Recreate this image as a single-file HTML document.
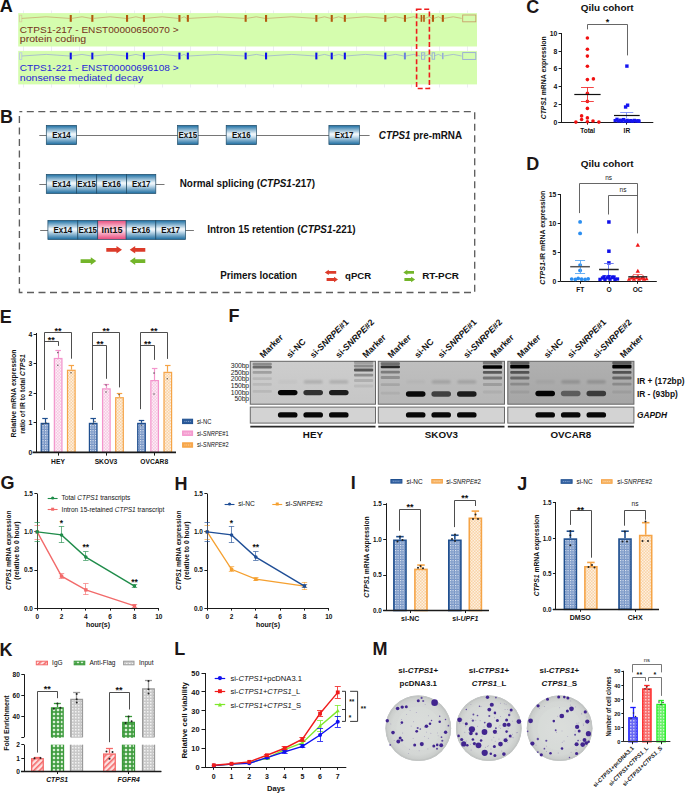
<!DOCTYPE html>
<html><head><meta charset="utf-8"><title>Figure</title>
<style>
html,body{margin:0;padding:0;background:#fff;}
body{width:685px;height:793px;overflow:hidden;}
svg{display:block;font-family:"Liberation Sans", sans-serif;}
</style></head><body>
<svg width="685" height="793" viewBox="0 0 685 793">
<rect width="685" height="793" fill="#fff"/>

<defs>
 <linearGradient id="gexon" x1="0" y1="0" x2="0" y2="1">
  <stop offset="0" stop-color="#1b6ea3"/>
  <stop offset="0.45" stop-color="#f4f9fc"/>
  <stop offset="0.55" stop-color="#dcebf5"/>
  <stop offset="1" stop-color="#1a6b9f"/>
 </linearGradient>
 <linearGradient id="gint" x1="0" y1="0" x2="0" y2="1">
  <stop offset="0" stop-color="#e64b7c"/>
  <stop offset="0.45" stop-color="#ffe0ea"/>
  <stop offset="0.55" stop-color="#ffd0de"/>
  <stop offset="1" stop-color="#e6467a"/>
 </linearGradient>
 <pattern id="pblue" width="2.5" height="2.5" patternUnits="userSpaceOnUse">
  <rect width="2.5" height="2.5" fill="#6f8fc2"/>
  <rect width="1.2" height="1.2" fill="#e6ecf5"/>
  <rect x="1.25" y="1.25" width="0.8" height="0.8" fill="#b8c8e2"/>
 </pattern>
 <pattern id="ppink" width="3" height="3" patternUnits="userSpaceOnUse">
  <rect width="3" height="3" fill="#f6c8e2"/>
  <rect width="1.5" height="1.5" fill="#fdeef6"/>
  <rect x="1.5" y="1.5" width="1.5" height="1.5" fill="#fdeef6"/>
 </pattern>
 <pattern id="porange" width="3" height="3" patternUnits="userSpaceOnUse">
  <rect width="3" height="3" fill="#f9d3a6"/>
  <rect width="1.5" height="1.5" fill="#fdf0e0"/>
  <rect x="1.5" y="1.5" width="1.5" height="1.5" fill="#fdf0e0"/>
 </pattern>
 <pattern id="pred" width="4" height="4" patternUnits="userSpaceOnUse" patternTransform="rotate(45)">
  <rect width="4" height="4" fill="#fde2e2"/>
  <rect width="1.6" height="4" fill="#f46a6a"/>
 </pattern>
 <pattern id="pgreen" width="4" height="4" patternUnits="userSpaceOnUse">
  <rect width="4" height="4" fill="#3c9a3c"/>
  <rect x="0.8" y="0.8" width="2.4" height="2.4" fill="#d9efd6"/>
 </pattern>
 <pattern id="pgrey" width="3" height="3" patternUnits="userSpaceOnUse">
  <rect width="3" height="3" fill="#c9c9c9"/>
  <rect width="1.5" height="1.5" fill="#f2f2f2"/>
 </pattern>
 <pattern id="pmblue" width="3" height="3" patternUnits="userSpaceOnUse">
  <rect width="3" height="3" fill="#6a6af2"/>
  <rect width="1.5" height="1.5" fill="#c4c4fb"/>
 </pattern>
 <pattern id="pmred" width="3" height="3" patternUnits="userSpaceOnUse">
  <rect width="3" height="3" fill="#f77070"/>
  <rect width="1.5" height="1.5" fill="#fdcaca"/>
 </pattern>
 <pattern id="pmgreen" width="3" height="3" patternUnits="userSpaceOnUse">
  <rect width="3" height="3" fill="#6cf06c"/>
  <rect width="1.5" height="1.5" fill="#ccfccc"/>
 </pattern>
 <radialGradient id="gplate" cx="0.5" cy="0.5" r="0.5">
  <stop offset="0" stop-color="#d9dcda"/>
  <stop offset="0.8" stop-color="#d4d7d5"/>
  <stop offset="0.94" stop-color="#cacdcb"/>
  <stop offset="1" stop-color="#b5b8b6"/>
 </radialGradient>
 <filter id="cblur" x="-50%" y="-50%" width="200%" height="200%"><feGaussianBlur stdDeviation="0.35"/></filter>
 <linearGradient id="ggel0" x1="0" y1="0" x2="0" y2="1">
  <stop offset="0" stop-color="#cdcdcd"/>
  <stop offset="1" stop-color="#c6c6c6"/>
 </linearGradient>
 <linearGradient id="ggel1" x1="0" y1="0" x2="0" y2="1">
  <stop offset="0" stop-color="#bfbfbf"/>
  <stop offset="1" stop-color="#b7b7b7"/>
 </linearGradient>
 <linearGradient id="ggel2" x1="0" y1="0" x2="0" y2="1">
  <stop offset="0" stop-color="#b0b0b0"/>
  <stop offset="1" stop-color="#a6a6a6"/>
 </linearGradient>
 <filter id="blur1" x="-20%" y="-50%" width="140%" height="200%"><feGaussianBlur stdDeviation="0.9"/></filter>
 <filter id="blur08" x="-20%" y="-60%" width="140%" height="220%"><feGaussianBlur stdDeviation="0.75"/></filter>
 <filter id="blur05" x="-20%" y="-50%" width="140%" height="200%"><feGaussianBlur stdDeviation="0.5"/></filter>
</defs>

<text x="-0.30" y="12.40" font-size="18" fill="#111" font-weight="bold" >A</text>
<line x1="23.50" y1="10.50" x2="23.50" y2="87.50" stroke="#e8e9f0" stroke-width="0.8" />
<line x1="51.50" y1="10.50" x2="51.50" y2="87.50" stroke="#e8e9f0" stroke-width="0.8" />
<line x1="79.50" y1="10.50" x2="79.50" y2="87.50" stroke="#e8e9f0" stroke-width="0.8" />
<line x1="106.50" y1="10.50" x2="106.50" y2="87.50" stroke="#e8e9f0" stroke-width="0.8" />
<line x1="134.50" y1="10.50" x2="134.50" y2="87.50" stroke="#e8e9f0" stroke-width="0.8" />
<line x1="162.50" y1="10.50" x2="162.50" y2="87.50" stroke="#e8e9f0" stroke-width="0.8" />
<line x1="190.50" y1="10.50" x2="190.50" y2="87.50" stroke="#e8e9f0" stroke-width="0.8" />
<line x1="217.50" y1="10.50" x2="217.50" y2="87.50" stroke="#e8e9f0" stroke-width="0.8" />
<line x1="245.50" y1="10.50" x2="245.50" y2="87.50" stroke="#e8e9f0" stroke-width="0.8" />
<line x1="273.50" y1="10.50" x2="273.50" y2="87.50" stroke="#e8e9f0" stroke-width="0.8" />
<line x1="301.50" y1="10.50" x2="301.50" y2="87.50" stroke="#e8e9f0" stroke-width="0.8" />
<line x1="328.50" y1="10.50" x2="328.50" y2="87.50" stroke="#e8e9f0" stroke-width="0.8" />
<line x1="356.50" y1="10.50" x2="356.50" y2="87.50" stroke="#e8e9f0" stroke-width="0.8" />
<line x1="384.50" y1="10.50" x2="384.50" y2="87.50" stroke="#e8e9f0" stroke-width="0.8" />
<line x1="411.50" y1="10.50" x2="411.50" y2="87.50" stroke="#e8e9f0" stroke-width="0.8" />
<line x1="439.50" y1="10.50" x2="439.50" y2="87.50" stroke="#e8e9f0" stroke-width="0.8" />
<line x1="467.50" y1="10.50" x2="467.50" y2="87.50" stroke="#e8e9f0" stroke-width="0.8" />
<rect x="18.20" y="13.10" width="458.80" height="33.40" fill="#d5fdae" stroke="none" stroke-width="1" />
<rect x="18.20" y="50.90" width="458.80" height="33.50" fill="#d5fdae" stroke="none" stroke-width="1" />
<rect x="19.60" y="15.20" width="2.20" height="6.60" fill="none" stroke="#d9cca0" stroke-width="0.8" />
<polyline points="21.80,18.40 46.25,16.80 69.70,18.40" fill="none" stroke="#c9a06a" stroke-width="0.7" />
<rect x="69.70" y="15.00" width="2.10" height="6.80" fill="#b35a0f" stroke="none" stroke-width="1" />
<polyline points="71.70,18.40 82.00,16.80 91.30,18.40" fill="none" stroke="#c9a06a" stroke-width="0.7" />
<rect x="91.30" y="15.00" width="2.10" height="6.80" fill="#b35a0f" stroke="none" stroke-width="1" />
<polyline points="93.30,18.40 110.15,16.80 126.00,18.40" fill="none" stroke="#c9a06a" stroke-width="0.7" />
<rect x="126.00" y="15.00" width="2.10" height="6.80" fill="#b35a0f" stroke="none" stroke-width="1" />
<polyline points="128.00,18.40 135.95,16.80 142.90,18.40" fill="none" stroke="#c9a06a" stroke-width="0.7" />
<rect x="142.90" y="15.00" width="2.10" height="6.80" fill="#b35a0f" stroke="none" stroke-width="1" />
<polyline points="144.90,18.40 162.15,16.80 178.40,18.40" fill="none" stroke="#c9a06a" stroke-width="0.7" />
<rect x="178.40" y="15.00" width="2.10" height="6.80" fill="#b35a0f" stroke="none" stroke-width="1" />
<polyline points="180.40,18.40 184.10,16.80 186.80,18.40" fill="none" stroke="#c9a06a" stroke-width="0.7" />
<rect x="186.80" y="15.00" width="2.10" height="6.80" fill="#b35a0f" stroke="none" stroke-width="1" />
<polyline points="188.80,18.40 217.20,16.80 244.60,18.40" fill="none" stroke="#c9a06a" stroke-width="0.7" />
<rect x="244.60" y="15.00" width="2.10" height="6.80" fill="#b35a0f" stroke="none" stroke-width="1" />
<polyline points="246.60,18.40 256.30,16.80 265.00,18.40" fill="none" stroke="#c9a06a" stroke-width="0.7" />
<rect x="265.00" y="15.00" width="2.10" height="6.80" fill="#b35a0f" stroke="none" stroke-width="1" />
<polyline points="267.00,18.40 291.65,16.80 315.30,18.40" fill="none" stroke="#c9a06a" stroke-width="0.7" />
<rect x="315.30" y="15.00" width="2.10" height="6.80" fill="#b35a0f" stroke="none" stroke-width="1" />
<polyline points="317.30,18.40 324.50,16.80 330.70,18.40" fill="none" stroke="#c9a06a" stroke-width="0.7" />
<rect x="330.70" y="15.00" width="2.10" height="6.80" fill="#b35a0f" stroke="none" stroke-width="1" />
<polyline points="332.70,18.40 338.75,16.80 343.80,18.40" fill="none" stroke="#c9a06a" stroke-width="0.7" />
<rect x="343.80" y="15.00" width="2.10" height="6.80" fill="#b35a0f" stroke="none" stroke-width="1" />
<polyline points="345.80,18.40 365.55,16.80 384.30,18.40" fill="none" stroke="#c9a06a" stroke-width="0.7" />
<rect x="384.30" y="15.00" width="2.10" height="6.80" fill="#b35a0f" stroke="none" stroke-width="1" />
<polyline points="386.30,18.40 395.60,16.80 403.90,18.40" fill="none" stroke="#c9a06a" stroke-width="0.7" />
<rect x="403.90" y="15.00" width="2.10" height="6.80" fill="#b35a0f" stroke="none" stroke-width="1" />
<polyline points="405.90,18.40 413.65,16.80 420.40,18.40" fill="none" stroke="#c9a06a" stroke-width="0.7" />
<rect x="420.60" y="15.00" width="1.60" height="6.80" fill="#b35a0f" stroke="none" stroke-width="1" />
<polyline points="422.40,18.40 423.20,16.80 423.00,18.40" fill="none" stroke="#c9a06a" stroke-width="0.7" />
<rect x="423.20" y="15.00" width="1.60" height="6.80" fill="#b35a0f" stroke="none" stroke-width="1" />
<polyline points="425.00,18.40 428.95,16.80 431.90,18.40" fill="none" stroke="#c9a06a" stroke-width="0.7" />
<rect x="431.90" y="15.00" width="2.10" height="6.80" fill="#b35a0f" stroke="none" stroke-width="1" />
<polyline points="433.90,18.40 438.35,16.80 441.80,18.40" fill="none" stroke="#c9a06a" stroke-width="0.7" />
<rect x="441.80" y="15.00" width="2.10" height="6.80" fill="#b35a0f" stroke="none" stroke-width="1" />
<polyline points="443.80,18.40 453.25,16.80 461.70,18.40" fill="none" stroke="#c9a06a" stroke-width="0.7" />
<rect x="462.70" y="15.00" width="13.10" height="6.80" fill="none" stroke="#c9a06a" stroke-width="0.9" />
<rect x="19.60" y="52.80" width="2.20" height="6.60" fill="none" stroke="#b8c4e8" stroke-width="0.8" />
<polyline points="21.80,56.00 46.25,54.40 69.70,56.00" fill="none" stroke="#98a8d8" stroke-width="0.7" />
<rect x="69.70" y="52.60" width="2.10" height="6.80" fill="#1010e8" stroke="none" stroke-width="1" />
<polyline points="71.70,56.00 82.00,54.40 91.30,56.00" fill="none" stroke="#98a8d8" stroke-width="0.7" />
<rect x="91.30" y="52.60" width="2.10" height="6.80" fill="#1010e8" stroke="none" stroke-width="1" />
<polyline points="93.30,56.00 110.15,54.40 126.00,56.00" fill="none" stroke="#98a8d8" stroke-width="0.7" />
<rect x="126.00" y="52.60" width="2.10" height="6.80" fill="#1010e8" stroke="none" stroke-width="1" />
<polyline points="128.00,56.00 135.95,54.40 142.90,56.00" fill="none" stroke="#98a8d8" stroke-width="0.7" />
<rect x="142.90" y="52.60" width="2.10" height="6.80" fill="#1010e8" stroke="none" stroke-width="1" />
<polyline points="144.90,56.00 162.15,54.40 178.40,56.00" fill="none" stroke="#98a8d8" stroke-width="0.7" />
<rect x="178.40" y="52.60" width="2.10" height="6.80" fill="#1010e8" stroke="none" stroke-width="1" />
<polyline points="180.40,56.00 184.10,54.40 186.80,56.00" fill="none" stroke="#98a8d8" stroke-width="0.7" />
<rect x="186.80" y="52.60" width="2.10" height="6.80" fill="#1010e8" stroke="none" stroke-width="1" />
<polyline points="188.80,56.00 217.20,54.40 244.60,56.00" fill="none" stroke="#98a8d8" stroke-width="0.7" />
<rect x="244.60" y="52.60" width="2.10" height="6.80" fill="#1010e8" stroke="none" stroke-width="1" />
<polyline points="246.60,56.00 256.30,54.40 265.00,56.00" fill="none" stroke="#98a8d8" stroke-width="0.7" />
<rect x="265.00" y="52.60" width="2.10" height="6.80" fill="#1010e8" stroke="none" stroke-width="1" />
<polyline points="267.00,56.00 291.65,54.40 315.30,56.00" fill="none" stroke="#98a8d8" stroke-width="0.7" />
<rect x="315.30" y="52.60" width="2.10" height="6.80" fill="#1010e8" stroke="none" stroke-width="1" />
<polyline points="317.30,56.00 324.50,54.40 330.70,56.00" fill="none" stroke="#98a8d8" stroke-width="0.7" />
<rect x="330.70" y="52.60" width="2.10" height="6.80" fill="#1010e8" stroke="none" stroke-width="1" />
<polyline points="332.70,56.00 338.75,54.40 343.80,56.00" fill="none" stroke="#98a8d8" stroke-width="0.7" />
<rect x="343.80" y="52.60" width="2.10" height="6.80" fill="#1010e8" stroke="none" stroke-width="1" />
<polyline points="345.80,56.00 365.55,54.40 384.30,56.00" fill="none" stroke="#98a8d8" stroke-width="0.7" />
<rect x="384.30" y="52.60" width="2.10" height="6.80" fill="#1010e8" stroke="none" stroke-width="1" />
<polyline points="386.30,56.00 395.60,54.40 403.90,56.00" fill="none" stroke="#98a8d8" stroke-width="0.7" />
<rect x="403.90" y="52.60" width="2.00" height="6.80" fill="#6d82db" stroke="none" stroke-width="1" />
<polyline points="405.90,56.00 413.65,54.40 420.40,56.00" fill="none" stroke="#98a8d8" stroke-width="0.7" />
<rect x="421.40" y="52.80" width="3.40" height="6.40" fill="none" stroke="#8fa3dc" stroke-width="0.8" />
<polyline points="422.40,56.00 423.20,54.40 423.00,56.00" fill="none" stroke="#98a8d8" stroke-width="0.7" />
<polyline points="425.00,56.00 428.95,54.40 431.90,56.00" fill="none" stroke="#98a8d8" stroke-width="0.7" />
<rect x="432.10" y="52.80" width="2.60" height="6.40" fill="none" stroke="#8fa3dc" stroke-width="0.8" />
<polyline points="433.90,56.00 438.35,54.40 441.80,56.00" fill="none" stroke="#98a8d8" stroke-width="0.7" />
<rect x="442.10" y="52.80" width="1.40" height="6.40" fill="#8fa3dc" stroke="none" stroke-width="1" />
<polyline points="443.80,56.00 453.25,54.40 461.70,56.00" fill="none" stroke="#98a8d8" stroke-width="0.7" />
<rect x="462.70" y="52.60" width="13.10" height="6.80" fill="none" stroke="#98a8d8" stroke-width="0.9" />
<text x="19.80" y="33.30" font-size="9.6" fill="#74301a" textLength="158.80" lengthAdjust="spacingAndGlyphs" >CTPS1-217 - ENST00000650070 &gt;</text>
<text x="19.80" y="42.40" font-size="9.6" fill="#74301a" textLength="66.40" lengthAdjust="spacingAndGlyphs" >protein coding</text>
<text x="19.80" y="70.70" font-size="9.6" fill="#2626d6" textLength="158.80" lengthAdjust="spacingAndGlyphs" >CTPS1-221 - ENST00000696108 &gt;</text>
<text x="19.80" y="80.60" font-size="9.6" fill="#2626d6" textLength="123.40" lengthAdjust="spacingAndGlyphs" >nonsense mediated decay</text>
<rect x="416.60" y="9.20" width="12.80" height="79.30" fill="none" stroke="#ee1c1c" stroke-width="1.6" stroke-dasharray="5,2.6"/>
<text x="0.10" y="122.90" font-size="18" fill="#1c1616" font-weight="bold" >B</text>
<rect x="19.40" y="111.60" width="455.30" height="180.90" fill="none" stroke="#5e5e5e" stroke-width="1.35" stroke-dasharray="7,4.5" stroke-dashoffset="4.1"/>
<line x1="39.30" y1="135.50" x2="369.60" y2="135.50" stroke="#666" stroke-width="0.9" />
<rect x="46.30" y="125.40" width="30.30" height="19.20" fill="url(#gexon)" stroke="#1f4a66" stroke-width="0.7" />
<text x="61.45" y="138.10" font-size="8.6" fill="#111" font-weight="bold" text-anchor="middle" textLength="18.60" lengthAdjust="spacingAndGlyphs" >Ex14</text>
<rect x="177.60" y="125.40" width="20.50" height="19.20" fill="url(#gexon)" stroke="#1f4a66" stroke-width="0.7" />
<text x="187.85" y="138.10" font-size="8.6" fill="#111" font-weight="bold" text-anchor="middle" textLength="18.60" lengthAdjust="spacingAndGlyphs" >Ex15</text>
<rect x="226.20" y="125.40" width="30.20" height="19.20" fill="url(#gexon)" stroke="#1f4a66" stroke-width="0.7" />
<text x="241.30" y="138.10" font-size="8.6" fill="#111" font-weight="bold" text-anchor="middle" textLength="18.60" lengthAdjust="spacingAndGlyphs" >Ex16</text>
<rect x="328.90" y="125.40" width="30.50" height="19.20" fill="url(#gexon)" stroke="#1f4a66" stroke-width="0.7" />
<text x="344.15" y="138.10" font-size="8.6" fill="#111" font-weight="bold" text-anchor="middle" textLength="18.60" lengthAdjust="spacingAndGlyphs" >Ex17</text>
<text x="378.80" y="138.60" font-size="10" fill="#111" font-weight="bold" textLength="83.30" lengthAdjust="spacingAndGlyphs" ><tspan font-style="italic">CTPS1</tspan> pre-mRNA</text>
<line x1="39.30" y1="184.50" x2="164.50" y2="184.50" stroke="#666" stroke-width="0.9" />
<rect x="46.30" y="174.40" width="30.30" height="19.10" fill="url(#gexon)" stroke="#1f4a66" stroke-width="0.7" />
<text x="61.45" y="187.05" font-size="8.6" fill="#111" font-weight="bold" text-anchor="middle" textLength="18.60" lengthAdjust="spacingAndGlyphs" >Ex14</text>
<rect x="76.60" y="174.40" width="20.10" height="19.10" fill="url(#gexon)" stroke="#1f4a66" stroke-width="0.7" />
<text x="86.65" y="187.05" font-size="8.6" fill="#111" font-weight="bold" text-anchor="middle" textLength="18.60" lengthAdjust="spacingAndGlyphs" >Ex15</text>
<rect x="96.70" y="174.40" width="29.90" height="19.10" fill="url(#gexon)" stroke="#1f4a66" stroke-width="0.7" />
<text x="111.65" y="187.05" font-size="8.6" fill="#111" font-weight="bold" text-anchor="middle" textLength="18.60" lengthAdjust="spacingAndGlyphs" >Ex16</text>
<rect x="126.60" y="174.40" width="29.20" height="19.10" fill="url(#gexon)" stroke="#1f4a66" stroke-width="0.7" />
<text x="141.20" y="187.05" font-size="8.6" fill="#111" font-weight="bold" text-anchor="middle" textLength="18.60" lengthAdjust="spacingAndGlyphs" >Ex17</text>
<text x="179.70" y="187.30" font-size="10" fill="#111" font-weight="bold" textLength="135.30" lengthAdjust="spacingAndGlyphs" >Normal splicing (<tspan font-style="italic">CTPS1</tspan>-217)</text>
<line x1="40.20" y1="230.50" x2="193.90" y2="230.50" stroke="#666" stroke-width="0.9" />
<rect x="47.90" y="220.40" width="29.90" height="19.10" fill="url(#gexon)" stroke="#1f4a66" stroke-width="0.7" />
<text x="62.85" y="233.05" font-size="8.6" fill="#111" font-weight="bold" text-anchor="middle" textLength="18.60" lengthAdjust="spacingAndGlyphs" >Ex14</text>
<rect x="77.80" y="220.40" width="19.90" height="19.10" fill="url(#gexon)" stroke="#1f4a66" stroke-width="0.7" />
<text x="87.75" y="233.05" font-size="8.6" fill="#111" font-weight="bold" text-anchor="middle" textLength="18.60" lengthAdjust="spacingAndGlyphs" >Ex15</text>
<rect x="97.70" y="220.40" width="28.50" height="19.10" fill="url(#gint)" stroke="#1f4a66" stroke-width="0.7" />
<text x="111.95" y="233.05" font-size="8.6" fill="#111" font-weight="bold" text-anchor="middle" textLength="21.00" lengthAdjust="spacingAndGlyphs" >Int15</text>
<rect x="126.20" y="220.40" width="29.60" height="19.10" fill="url(#gexon)" stroke="#1f4a66" stroke-width="0.7" />
<text x="141.00" y="233.05" font-size="8.6" fill="#111" font-weight="bold" text-anchor="middle" textLength="18.60" lengthAdjust="spacingAndGlyphs" >Ex16</text>
<rect x="155.80" y="220.40" width="29.70" height="19.10" fill="url(#gexon)" stroke="#1f4a66" stroke-width="0.7" />
<text x="170.65" y="233.05" font-size="8.6" fill="#111" font-weight="bold" text-anchor="middle" textLength="18.60" lengthAdjust="spacingAndGlyphs" >Ex17</text>
<text x="207.30" y="233.40" font-size="10" fill="#111" font-weight="bold" textLength="148.40" lengthAdjust="spacingAndGlyphs" >Intron 15 retention (<tspan font-style="italic">CTPS1</tspan>-221)</text>
<polygon points="106.30,247.90 116.50,247.90 116.50,246.00 122.00,249.80 116.50,253.60 116.50,251.70 106.30,251.70" fill="#dc3b2a" stroke="none" stroke-width="1" />
<polygon points="145.30,247.90 135.20,247.90 135.20,246.00 129.70,249.80 135.20,253.60 135.20,251.70 145.30,251.70" fill="#dc3b2a" stroke="none" stroke-width="1" />
<polygon points="80.60,259.20 90.80,259.20 90.80,257.30 96.30,261.10 90.80,264.90 90.80,263.00 80.60,263.00" fill="#73b52a" stroke="none" stroke-width="1" />
<polygon points="145.30,259.20 135.20,259.20 135.20,257.30 129.70,261.10 135.20,264.90 135.20,263.00 145.30,263.00" fill="#73b52a" stroke="none" stroke-width="1" />
<text x="220.20" y="279.30" font-size="10" fill="#111" font-weight="bold" textLength="76.90" lengthAdjust="spacingAndGlyphs" >Primers location</text>
<polygon points="336.20,271.00 328.80,271.00 328.80,269.70 324.80,272.40 328.80,275.10 328.80,273.80 336.20,273.80" fill="#dc3b2a" stroke="none" stroke-width="1" />
<polygon points="326.60,278.10 334.00,278.10 334.00,276.80 338.00,279.50 334.00,282.20 334.00,280.90 326.60,280.90" fill="#dc3b2a" stroke="none" stroke-width="1" />
<text x="345.00" y="279.20" font-size="9.6" fill="#111" font-weight="bold" textLength="26.20" lengthAdjust="spacingAndGlyphs" >qPCR</text>
<polygon points="414.00,271.00 407.30,271.00 407.30,269.70 403.30,272.40 407.30,275.10 407.30,273.80 414.00,273.80" fill="#73b52a" stroke="none" stroke-width="1" />
<polygon points="404.40,278.10 411.10,278.10 411.10,276.80 415.10,279.50 411.10,282.20 411.10,280.90 404.40,280.90" fill="#73b52a" stroke="none" stroke-width="1" />
<text x="422.20" y="279.20" font-size="9.6" fill="#111" font-weight="bold" textLength="36.80" lengthAdjust="spacingAndGlyphs" >RT-PCR</text>
<text x="526.30" y="12.60" font-size="18" fill="#1c1616" font-weight="bold" >C</text>
<text x="607.20" y="10.90" font-size="9.9" fill="#111" font-weight="bold" text-anchor="middle" textLength="52.90" lengthAdjust="spacingAndGlyphs" >Qilu cohort</text>
<line x1="561.50" y1="33.00" x2="561.50" y2="122.20" stroke="#1a1a1a" stroke-width="1.0" />
<line x1="558.60" y1="122.50" x2="561.40" y2="122.50" stroke="#1a1a1a" stroke-width="1.0" />
<text x="557.20" y="124.65" font-size="6.8" fill="#111" font-weight="bold" text-anchor="end" >0</text>
<line x1="558.60" y1="104.50" x2="561.40" y2="104.50" stroke="#1a1a1a" stroke-width="1.0" />
<text x="557.20" y="106.91" font-size="6.8" fill="#111" font-weight="bold" text-anchor="end" >2</text>
<line x1="558.60" y1="86.50" x2="561.40" y2="86.50" stroke="#1a1a1a" stroke-width="1.0" />
<text x="557.20" y="89.17" font-size="6.8" fill="#111" font-weight="bold" text-anchor="end" >4</text>
<line x1="558.60" y1="68.50" x2="561.40" y2="68.50" stroke="#1a1a1a" stroke-width="1.0" />
<text x="557.20" y="71.43" font-size="6.8" fill="#111" font-weight="bold" text-anchor="end" >6</text>
<line x1="558.60" y1="51.50" x2="561.40" y2="51.50" stroke="#1a1a1a" stroke-width="1.0" />
<text x="557.20" y="53.69" font-size="6.8" fill="#111" font-weight="bold" text-anchor="end" >8</text>
<line x1="558.60" y1="33.50" x2="561.40" y2="33.50" stroke="#1a1a1a" stroke-width="1.0" />
<text x="557.20" y="35.95" font-size="6.8" fill="#111" font-weight="bold" text-anchor="end" >10</text>
<line x1="558.30" y1="122.50" x2="653.30" y2="122.50" stroke="#1a1a1a" stroke-width="1.1" />
<line x1="587.50" y1="122.20" x2="587.50" y2="124.60" stroke="#1a1a1a" stroke-width="1" />
<line x1="626.50" y1="122.20" x2="626.50" y2="124.60" stroke="#1a1a1a" stroke-width="1" />
<text x="587.70" y="132.90" font-size="6.6" fill="#111" font-weight="bold" text-anchor="middle" textLength="14.90" lengthAdjust="spacingAndGlyphs" >Total</text>
<text x="626.90" y="132.90" font-size="6.6" fill="#111" font-weight="bold" text-anchor="middle" >IR</text>
<text x="0" y="0" font-size="7.8" font-weight="bold" text-anchor="middle" fill="#111" transform="translate(545.90,77.80) rotate(-90)" textLength="83.00" lengthAdjust="spacingAndGlyphs"><tspan font-style="italic">CTPS1</tspan> mRNA expression</text>
<polyline points="587.50,29.40 587.50,24.50 627.50,24.50 627.50,55.40" fill="none" stroke="#555" stroke-width="0.9" />
<text x="607.40" y="25.48" font-size="9.0" fill="#111" font-weight="bold" text-anchor="middle" >*</text>
<circle cx="587.40" cy="38.00" r="1.80" fill="#f01010" stroke="none" stroke-width="1" />
<circle cx="587.40" cy="49.30" r="1.80" fill="#f01010" stroke="none" stroke-width="1" />
<circle cx="587.40" cy="56.10" r="1.80" fill="#f01010" stroke="none" stroke-width="1" />
<circle cx="587.40" cy="66.30" r="1.80" fill="#f01010" stroke="none" stroke-width="1" />
<circle cx="587.40" cy="79.60" r="1.80" fill="#f01010" stroke="none" stroke-width="1" />
<circle cx="593.40" cy="78.90" r="1.80" fill="#f01010" stroke="none" stroke-width="1" />
<circle cx="587.40" cy="93.40" r="1.80" fill="#f01010" stroke="none" stroke-width="1" />
<circle cx="587.40" cy="101.40" r="1.80" fill="#f01010" stroke="none" stroke-width="1" />
<circle cx="587.40" cy="108.40" r="1.80" fill="#f01010" stroke="none" stroke-width="1" />
<circle cx="581.60" cy="115.90" r="1.80" fill="#f01010" stroke="none" stroke-width="1" />
<circle cx="581.60" cy="119.50" r="1.80" fill="#f01010" stroke="none" stroke-width="1" />
<circle cx="587.40" cy="117.90" r="1.80" fill="#f01010" stroke="none" stroke-width="1" />
<circle cx="587.40" cy="121.80" r="1.80" fill="#f01010" stroke="none" stroke-width="1" />
<circle cx="575.90" cy="122.10" r="1.80" fill="#f01010" stroke="none" stroke-width="1" />
<circle cx="593.00" cy="121.00" r="1.80" fill="#f01010" stroke="none" stroke-width="1" />
<circle cx="598.90" cy="122.10" r="1.80" fill="#f01010" stroke="none" stroke-width="1" />
<line x1="581.00" y1="87.50" x2="593.80" y2="87.50" stroke="#f03030" stroke-width="0.9" />
<line x1="581.00" y1="101.50" x2="593.80" y2="101.50" stroke="#f03030" stroke-width="0.9" />
<line x1="587.50" y1="87.10" x2="587.50" y2="101.40" stroke="#f03030" stroke-width="0.9" />
<line x1="574.30" y1="94.50" x2="600.60" y2="94.50" stroke="#111" stroke-width="1.2" />
<rect x="625.20" y="64.40" width="3.40" height="3.40" fill="#1414f0" stroke="none" stroke-width="1" />
<rect x="625.90" y="103.50" width="3.40" height="3.40" fill="#1414f0" stroke="none" stroke-width="1" />
<rect x="623.90" y="105.30" width="3.40" height="3.40" fill="#1414f0" stroke="none" stroke-width="1" />
<rect x="613.55" y="118.95" width="3.30" height="3.30" fill="#1414f0" stroke="none" stroke-width="1" />
<rect x="615.35" y="117.65" width="3.30" height="3.30" fill="#1414f0" stroke="none" stroke-width="1" />
<rect x="616.95" y="119.35" width="3.30" height="3.30" fill="#1414f0" stroke="none" stroke-width="1" />
<rect x="618.75" y="118.55" width="3.30" height="3.30" fill="#1414f0" stroke="none" stroke-width="1" />
<rect x="620.35" y="119.55" width="3.30" height="3.30" fill="#1414f0" stroke="none" stroke-width="1" />
<rect x="621.95" y="117.95" width="3.30" height="3.30" fill="#1414f0" stroke="none" stroke-width="1" />
<rect x="623.75" y="119.55" width="3.30" height="3.30" fill="#1414f0" stroke="none" stroke-width="1" />
<rect x="625.55" y="118.75" width="3.30" height="3.30" fill="#1414f0" stroke="none" stroke-width="1" />
<rect x="627.35" y="119.55" width="3.30" height="3.30" fill="#1414f0" stroke="none" stroke-width="1" />
<rect x="629.15" y="118.95" width="3.30" height="3.30" fill="#1414f0" stroke="none" stroke-width="1" />
<rect x="630.95" y="119.55" width="3.30" height="3.30" fill="#1414f0" stroke="none" stroke-width="1" />
<rect x="632.75" y="118.75" width="3.30" height="3.30" fill="#1414f0" stroke="none" stroke-width="1" />
<rect x="634.55" y="119.35" width="3.30" height="3.30" fill="#1414f0" stroke="none" stroke-width="1" />
<rect x="636.55" y="119.15" width="3.30" height="3.30" fill="#1414f0" stroke="none" stroke-width="1" />
<rect x="637.35" y="119.55" width="3.30" height="3.30" fill="#1414f0" stroke="none" stroke-width="1" />
<line x1="620.20" y1="112.50" x2="633.30" y2="112.50" stroke="#7c8cf8" stroke-width="0.9" />
<line x1="626.50" y1="112.20" x2="626.50" y2="118.00" stroke="#7c8cf8" stroke-width="0.9" />
<line x1="614.00" y1="115.50" x2="639.70" y2="115.50" stroke="#111" stroke-width="1.2" />
<text x="526.20" y="169.80" font-size="18" fill="#1c1616" font-weight="bold" >D</text>
<text x="607.20" y="167.30" font-size="9.9" fill="#111" font-weight="bold" text-anchor="middle" textLength="53.00" lengthAdjust="spacingAndGlyphs" >Qilu cohort</text>
<line x1="560.50" y1="194.00" x2="560.50" y2="281.40" stroke="#1a1a1a" stroke-width="1.0" />
<line x1="557.70" y1="281.50" x2="560.50" y2="281.50" stroke="#1a1a1a" stroke-width="1.0" />
<text x="556.30" y="283.85" font-size="6.8" fill="#111" font-weight="bold" text-anchor="end" >0</text>
<line x1="557.70" y1="252.50" x2="560.50" y2="252.50" stroke="#1a1a1a" stroke-width="1.0" />
<text x="556.30" y="254.90" font-size="6.8" fill="#111" font-weight="bold" text-anchor="end" >5</text>
<line x1="557.70" y1="223.50" x2="560.50" y2="223.50" stroke="#1a1a1a" stroke-width="1.0" />
<text x="556.30" y="225.95" font-size="6.8" fill="#111" font-weight="bold" text-anchor="end" >10</text>
<line x1="557.70" y1="194.50" x2="560.50" y2="194.50" stroke="#1a1a1a" stroke-width="1.0" />
<text x="556.30" y="197.00" font-size="6.8" fill="#111" font-weight="bold" text-anchor="end" >15</text>
<line x1="560.50" y1="281.50" x2="656.80" y2="281.50" stroke="#1a1a1a" stroke-width="1.1" />
<line x1="580.50" y1="281.40" x2="580.50" y2="283.80" stroke="#1a1a1a" stroke-width="1" />
<line x1="609.50" y1="281.40" x2="609.50" y2="283.80" stroke="#1a1a1a" stroke-width="1" />
<line x1="637.50" y1="281.40" x2="637.50" y2="283.80" stroke="#1a1a1a" stroke-width="1" />
<text x="580.20" y="291.90" font-size="6.6" fill="#111" font-weight="bold" text-anchor="middle" >FT</text>
<text x="609.10" y="291.90" font-size="6.6" fill="#111" font-weight="bold" text-anchor="middle" >O</text>
<text x="637.60" y="291.90" font-size="6.6" fill="#111" font-weight="bold" text-anchor="middle" >OC</text>
<text x="0" y="0" font-size="7.8" font-weight="bold" text-anchor="middle" fill="#111" transform="translate(544.60,237.80) rotate(-90)" textLength="94.00" lengthAdjust="spacingAndGlyphs"><tspan font-style="italic">CTPS1</tspan>-IR mRNA expression</text>
<polyline points="579.50,213.10 579.50,183.50 637.50,183.50 637.50,233.40" fill="none" stroke="#555" stroke-width="0.9" />
<polyline points="608.50,214.50 608.50,195.50 637.50,195.50 637.50,195.00" fill="none" stroke="#555" stroke-width="0.9" />
<text x="608.60" y="180.20" font-size="6.5" fill="#222" text-anchor="middle" >ns</text>
<text x="623.00" y="191.60" font-size="6.5" fill="#222" text-anchor="middle" >ns</text>
<circle cx="580.10" cy="221.90" r="1.95" fill="#2b8ef0" stroke="none" stroke-width="1" />
<circle cx="580.10" cy="233.40" r="1.95" fill="#2b8ef0" stroke="none" stroke-width="1" />
<circle cx="580.10" cy="265.10" r="1.95" fill="#2b8ef0" stroke="none" stroke-width="1" />
<circle cx="580.10" cy="270.40" r="1.95" fill="#2b8ef0" stroke="none" stroke-width="1" />
<circle cx="571.70" cy="279.00" r="1.85" fill="#2b8ef0" stroke="none" stroke-width="1" />
<circle cx="575.30" cy="279.40" r="1.85" fill="#2b8ef0" stroke="none" stroke-width="1" />
<circle cx="578.20" cy="278.40" r="1.85" fill="#2b8ef0" stroke="none" stroke-width="1" />
<circle cx="581.60" cy="279.20" r="1.85" fill="#2b8ef0" stroke="none" stroke-width="1" />
<circle cx="585.10" cy="279.40" r="1.85" fill="#2b8ef0" stroke="none" stroke-width="1" />
<circle cx="588.20" cy="278.80" r="1.85" fill="#2b8ef0" stroke="none" stroke-width="1" />
<line x1="575.00" y1="260.50" x2="585.10" y2="260.50" stroke="#5aa8f3" stroke-width="0.9" />
<line x1="575.00" y1="273.50" x2="585.10" y2="273.50" stroke="#5aa8f3" stroke-width="0.9" />
<line x1="580.50" y1="260.10" x2="580.50" y2="273.60" stroke="#5aa8f3" stroke-width="0.9" />
<line x1="570.20" y1="266.70" x2="589.90" y2="266.70" stroke="#555" stroke-width="1.5" />
<rect x="607.15" y="220.25" width="3.50" height="3.50" fill="#1010e8" stroke="none" stroke-width="1" />
<rect x="607.15" y="249.45" width="3.50" height="3.50" fill="#1010e8" stroke="none" stroke-width="1" />
<rect x="607.15" y="261.15" width="3.50" height="3.50" fill="#1010e8" stroke="none" stroke-width="1" />
<line x1="604.10" y1="263.50" x2="613.70" y2="263.50" stroke="#6070f0" stroke-width="0.9" />
<line x1="604.10" y1="275.50" x2="613.70" y2="275.50" stroke="#6070f0" stroke-width="0.9" />
<line x1="608.50" y1="263.10" x2="608.50" y2="275.30" stroke="#6070f0" stroke-width="0.9" />
<rect x="598.35" y="277.75" width="3.30" height="3.30" fill="#1010e8" stroke="none" stroke-width="1" />
<rect x="600.85" y="276.35" width="3.30" height="3.30" fill="#1010e8" stroke="none" stroke-width="1" />
<rect x="603.35" y="277.75" width="3.30" height="3.30" fill="#1010e8" stroke="none" stroke-width="1" />
<rect x="605.85" y="276.15" width="3.30" height="3.30" fill="#1010e8" stroke="none" stroke-width="1" />
<rect x="608.35" y="277.55" width="3.30" height="3.30" fill="#1010e8" stroke="none" stroke-width="1" />
<rect x="610.85" y="275.95" width="3.30" height="3.30" fill="#1010e8" stroke="none" stroke-width="1" />
<rect x="613.35" y="277.75" width="3.30" height="3.30" fill="#1010e8" stroke="none" stroke-width="1" />
<rect x="615.85" y="277.35" width="3.30" height="3.30" fill="#1010e8" stroke="none" stroke-width="1" />
<rect x="602.35" y="275.15" width="3.30" height="3.30" fill="#1010e8" stroke="none" stroke-width="1" />
<rect x="607.35" y="274.95" width="3.30" height="3.30" fill="#1010e8" stroke="none" stroke-width="1" />
<rect x="612.35" y="275.35" width="3.30" height="3.30" fill="#1010e8" stroke="none" stroke-width="1" />
<line x1="599.10" y1="269.50" x2="618.70" y2="269.50" stroke="#222" stroke-width="1.5" />
<polygon points="637.80,242.80 640.00,246.80 635.60,246.80" fill="#f01818" stroke="none" stroke-width="1" />
<polygon points="637.80,268.80 640.00,272.80 635.60,272.80" fill="#f01818" stroke="none" stroke-width="1" />
<line x1="633.00" y1="274.50" x2="642.50" y2="274.50" stroke="#f07070" stroke-width="0.9" />
<polygon points="629.00,276.92 631.09,280.72 626.91,280.72" fill="#f01818" stroke="none" stroke-width="1" />
<polygon points="631.50,275.72 633.59,279.52 629.41,279.52" fill="#f01818" stroke="none" stroke-width="1" />
<polygon points="634.00,276.92 636.09,280.72 631.91,280.72" fill="#f01818" stroke="none" stroke-width="1" />
<polygon points="636.50,275.52 638.59,279.32 634.41,279.32" fill="#f01818" stroke="none" stroke-width="1" />
<polygon points="639.00,276.92 641.09,280.72 636.91,280.72" fill="#f01818" stroke="none" stroke-width="1" />
<polygon points="641.50,275.92 643.59,279.72 639.41,279.72" fill="#f01818" stroke="none" stroke-width="1" />
<polygon points="644.00,276.92 646.09,280.72 641.91,280.72" fill="#f01818" stroke="none" stroke-width="1" />
<polygon points="646.50,276.52 648.59,280.32 644.41,280.32" fill="#f01818" stroke="none" stroke-width="1" />
<polygon points="633.00,274.72 635.09,278.52 630.91,278.52" fill="#f01818" stroke="none" stroke-width="1" />
<polygon points="638.00,274.32 640.09,278.12 635.91,278.12" fill="#f01818" stroke="none" stroke-width="1" />
<polygon points="643.00,274.72 645.09,278.52 640.91,278.52" fill="#f01818" stroke="none" stroke-width="1" />
<line x1="628.30" y1="276.80" x2="647.30" y2="276.80" stroke="#333" stroke-width="1.5" />
<text x="-0.20" y="322.80" font-size="18" fill="#1c1616" font-weight="bold" >E</text>
<line x1="36.50" y1="333.00" x2="36.50" y2="452.30" stroke="#1a1a1a" stroke-width="1.0" />
<line x1="33.60" y1="452.50" x2="36.40" y2="452.50" stroke="#1a1a1a" stroke-width="1.0" />
<text x="32.20" y="454.75" font-size="6.8" fill="#111" font-weight="bold" text-anchor="end" >0</text>
<line x1="33.60" y1="422.50" x2="36.40" y2="422.50" stroke="#1a1a1a" stroke-width="1.0" />
<text x="32.20" y="425.25" font-size="6.8" fill="#111" font-weight="bold" text-anchor="end" >1</text>
<line x1="33.60" y1="393.50" x2="36.40" y2="393.50" stroke="#1a1a1a" stroke-width="1.0" />
<text x="32.20" y="395.75" font-size="6.8" fill="#111" font-weight="bold" text-anchor="end" >2</text>
<line x1="33.60" y1="363.50" x2="36.40" y2="363.50" stroke="#1a1a1a" stroke-width="1.0" />
<text x="32.20" y="366.25" font-size="6.8" fill="#111" font-weight="bold" text-anchor="end" >3</text>
<line x1="33.60" y1="334.50" x2="36.40" y2="334.50" stroke="#1a1a1a" stroke-width="1.0" />
<text x="32.20" y="336.75" font-size="6.8" fill="#111" font-weight="bold" text-anchor="end" >4</text>
<line x1="36.40" y1="452.50" x2="176.00" y2="452.50" stroke="#1a1a1a" stroke-width="1.2" />
<line x1="45.50" y1="418.97" x2="45.50" y2="422.80" stroke="#1f4f8f" stroke-width="1.2" />
<line x1="42.25" y1="418.50" x2="47.75" y2="418.50" stroke="#1f4f8f" stroke-width="1.2" />
<rect x="41.20" y="423.40" width="7.60" height="28.90" fill="url(#pblue)" stroke="#1f4f8f" stroke-width="1.2" />
<line x1="58.50" y1="350.52" x2="58.50" y2="357.90" stroke="#f394cc" stroke-width="1.2" />
<line x1="55.40" y1="350.50" x2="60.90" y2="350.50" stroke="#f394cc" stroke-width="1.2" />
<rect x="54.35" y="358.50" width="7.60" height="93.80" fill="url(#ppink)" stroke="#f394cc" stroke-width="1.2" />
<line x1="71.50" y1="365.87" x2="71.50" y2="369.70" stroke="#f5a447" stroke-width="1.2" />
<line x1="68.55" y1="365.50" x2="74.05" y2="365.50" stroke="#f5a447" stroke-width="1.2" />
<rect x="67.50" y="370.30" width="7.60" height="82.00" fill="url(#porange)" stroke="#f5a447" stroke-width="1.2" />
<line x1="58.50" y1="452.30" x2="58.50" y2="455.60" stroke="#1a1a1a" stroke-width="1" />
<line x1="93.50" y1="418.97" x2="93.50" y2="422.80" stroke="#1f4f8f" stroke-width="1.2" />
<line x1="90.45" y1="418.50" x2="95.95" y2="418.50" stroke="#1f4f8f" stroke-width="1.2" />
<rect x="89.40" y="423.40" width="7.60" height="28.90" fill="url(#pblue)" stroke="#1f4f8f" stroke-width="1.2" />
<line x1="106.50" y1="384.45" x2="106.50" y2="388.29" stroke="#f394cc" stroke-width="1.2" />
<line x1="103.60" y1="384.50" x2="109.10" y2="384.50" stroke="#f394cc" stroke-width="1.2" />
<rect x="102.55" y="388.89" width="7.60" height="63.41" fill="url(#ppink)" stroke="#f394cc" stroke-width="1.2" />
<line x1="119.50" y1="393.30" x2="119.50" y2="397.13" stroke="#f5a447" stroke-width="1.2" />
<line x1="116.75" y1="393.50" x2="122.25" y2="393.50" stroke="#f5a447" stroke-width="1.2" />
<rect x="115.70" y="397.74" width="7.60" height="54.57" fill="url(#porange)" stroke="#f5a447" stroke-width="1.2" />
<line x1="106.50" y1="452.30" x2="106.50" y2="455.60" stroke="#1a1a1a" stroke-width="1" />
<line x1="141.50" y1="420.44" x2="141.50" y2="422.80" stroke="#1f4f8f" stroke-width="1.2" />
<line x1="138.75" y1="420.50" x2="144.25" y2="420.50" stroke="#1f4f8f" stroke-width="1.2" />
<rect x="137.70" y="423.40" width="7.60" height="28.90" fill="url(#pblue)" stroke="#1f4f8f" stroke-width="1.2" />
<line x1="154.50" y1="368.23" x2="154.50" y2="380.02" stroke="#f394cc" stroke-width="1.2" />
<line x1="151.90" y1="368.50" x2="157.40" y2="368.50" stroke="#f394cc" stroke-width="1.2" />
<rect x="150.85" y="380.62" width="7.60" height="71.68" fill="url(#ppink)" stroke="#f394cc" stroke-width="1.2" />
<line x1="167.50" y1="365.27" x2="167.50" y2="371.76" stroke="#f5a447" stroke-width="1.2" />
<line x1="165.05" y1="365.50" x2="170.55" y2="365.50" stroke="#f5a447" stroke-width="1.2" />
<rect x="164.00" y="372.37" width="7.60" height="79.94" fill="url(#porange)" stroke="#f5a447" stroke-width="1.2" />
<line x1="154.50" y1="452.30" x2="154.50" y2="455.60" stroke="#1a1a1a" stroke-width="1" />
<line x1="32.60" y1="452.40" x2="176.00" y2="452.40" stroke="#1a1a1a" stroke-width="1.6" />
<circle cx="42.90" cy="424.30" r="0.80" fill="#444" stroke="none" stroke-width="1" opacity="0.8"/>
<circle cx="45.90" cy="422.90" r="0.80" fill="#444" stroke="none" stroke-width="1" opacity="0.8"/>
<circle cx="57.80" cy="352.60" r="0.80" fill="#444" stroke="none" stroke-width="1" opacity="0.8"/>
<circle cx="57.80" cy="365.30" r="0.80" fill="#444" stroke="none" stroke-width="1" opacity="0.8"/>
<circle cx="71.00" cy="372.70" r="0.80" fill="#444" stroke="none" stroke-width="1" opacity="0.8"/>
<circle cx="106.00" cy="385.00" r="0.80" fill="#444" stroke="none" stroke-width="1" opacity="0.8"/>
<circle cx="106.00" cy="392.00" r="0.80" fill="#444" stroke="none" stroke-width="1" opacity="0.8"/>
<circle cx="119.00" cy="394.60" r="0.80" fill="#444" stroke="none" stroke-width="1" opacity="0.8"/>
<circle cx="154.00" cy="373.10" r="0.80" fill="#444" stroke="none" stroke-width="1" opacity="0.8"/>
<circle cx="154.00" cy="394.00" r="0.80" fill="#444" stroke="none" stroke-width="1" opacity="0.8"/>
<circle cx="167.30" cy="378.80" r="0.80" fill="#444" stroke="none" stroke-width="1" opacity="0.8"/>
<circle cx="141.30" cy="425.30" r="0.80" fill="#444" stroke="none" stroke-width="1" opacity="0.8"/>
<circle cx="93.00" cy="424.00" r="0.80" fill="#444" stroke="none" stroke-width="1" opacity="0.8"/>
<circle cx="95.00" cy="421.50" r="0.80" fill="#444" stroke="none" stroke-width="1" opacity="0.8"/>
<polyline points="44.50,410.00 44.50,332.50 71.50,332.50 71.50,358.70" fill="none" stroke="#3a3a3a" stroke-width="0.9" />
<polyline points="44.50,341.70 44.50,341.50 58.50,341.50 58.50,345.90" fill="none" stroke="#3a3a3a" stroke-width="0.9" />
<text x="58.00" y="334.18" font-size="9.0" fill="#111" font-weight="bold" text-anchor="middle" >**</text>
<text x="51.30" y="343.18" font-size="9.0" fill="#111" font-weight="bold" text-anchor="middle" >**</text>
<polyline points="92.50,410.00 92.50,332.50 119.50,332.50 119.50,387.40" fill="none" stroke="#3a3a3a" stroke-width="0.9" />
<polyline points="92.50,345.50 92.50,345.50 106.50,345.50 106.50,378.80" fill="none" stroke="#3a3a3a" stroke-width="0.9" />
<text x="106.00" y="334.18" font-size="9.0" fill="#111" font-weight="bold" text-anchor="middle" >**</text>
<text x="99.90" y="346.98" font-size="9.0" fill="#111" font-weight="bold" text-anchor="middle" >**</text>
<polyline points="140.50,409.20 140.50,332.50 167.50,332.50 167.50,358.90" fill="none" stroke="#3a3a3a" stroke-width="0.9" />
<polyline points="140.50,345.20 140.50,345.50 154.50,345.50 154.50,359.90" fill="none" stroke="#3a3a3a" stroke-width="0.9" />
<text x="154.00" y="334.08" font-size="9.0" fill="#111" font-weight="bold" text-anchor="middle" >**</text>
<text x="147.40" y="346.88" font-size="9.0" fill="#111" font-weight="bold" text-anchor="middle" >**</text>
<text x="58.00" y="463.70" font-size="6.7" fill="#111" font-weight="bold" text-anchor="middle" >HEY</text>
<text x="106.00" y="463.70" font-size="6.7" fill="#111" font-weight="bold" text-anchor="middle" >SKOV3</text>
<text x="154.20" y="463.70" font-size="6.7" fill="#111" font-weight="bold" text-anchor="middle" >OVCAR8</text>
<text x="0" y="0" font-size="7.8" font-weight="bold" text-anchor="middle" fill="#111" transform="translate(15.50,393.50) rotate(-90)" textLength="88.00" lengthAdjust="spacingAndGlyphs">Relative mRNA expression</text>
<text x="0" y="0" font-size="7.8" font-weight="bold" text-anchor="middle" fill="#111" transform="translate(24.50,393.90) rotate(-90)" textLength="79.50" lengthAdjust="spacingAndGlyphs">ratio of IR to total <tspan font-style="italic">CTPS1</tspan></text>
<rect x="182.60" y="419.20" width="10.00" height="4.40" fill="#2a5a9a" stroke="#1f4f8f" stroke-width="1.0" />
<line x1="184.40" y1="421.40" x2="191.00" y2="421.40" stroke="#b0c4e4" stroke-width="0.7" stroke-dasharray="1,0.8"/>
<text x="196.90" y="423.80" font-size="6.8" fill="#111" textLength="14.60" lengthAdjust="spacingAndGlyphs" >si-NC</text>
<rect x="182.60" y="431.00" width="10.00" height="4.40" fill="#f5a3d3" stroke="#f394cc" stroke-width="1.0" />
<line x1="184.40" y1="433.20" x2="191.00" y2="433.20" stroke="#fde0f0" stroke-width="0.7" stroke-dasharray="1,0.8"/>
<text x="196.90" y="435.60" font-size="6.8" fill="#111" textLength="31.70" lengthAdjust="spacingAndGlyphs" >si-<tspan font-style="italic">SNRPE</tspan>#1</text>
<rect x="182.60" y="442.80" width="10.00" height="4.40" fill="#f8a84c" stroke="#f5a447" stroke-width="1.0" />
<line x1="184.40" y1="445.00" x2="191.00" y2="445.00" stroke="#fde0c0" stroke-width="0.7" stroke-dasharray="1,0.8"/>
<text x="196.90" y="447.40" font-size="6.8" fill="#111" textLength="31.70" lengthAdjust="spacingAndGlyphs" >si-<tspan font-style="italic">SNRPE</tspan>#2</text>
<text x="228.40" y="322.30" font-size="18" fill="#1c1616" font-weight="bold" >F</text>
<rect x="250.30" y="361.30" width="125.20" height="42.90" fill="url(#ggel0)" stroke="#666" stroke-width="1.0" />
<rect x="250.30" y="407.10" width="125.20" height="16.00" fill="#d3d3d3" stroke="#6a6a6a" stroke-width="1.0" />
<line x1="250.30" y1="426.60" x2="375.50" y2="426.60" stroke="#2a2a2a" stroke-width="1.7" />
<rect x="252.62" y="362.70" width="19.20" height="2.80" fill="#000" stroke="none" stroke-width="1" opacity="0.315" rx="1" filter="url(#blur08)"/>
<rect x="252.62" y="365.80" width="19.20" height="2.80" fill="#000" stroke="none" stroke-width="1" opacity="0.47250000000000003" rx="1" filter="url(#blur08)"/>
<rect x="252.62" y="371.00" width="19.20" height="2.80" fill="#000" stroke="none" stroke-width="1" opacity="0.21000000000000002" rx="1" filter="url(#blur08)"/>
<rect x="252.62" y="377.20" width="19.20" height="2.80" fill="#000" stroke="none" stroke-width="1" opacity="0.084" rx="1" filter="url(#blur08)"/>
<rect x="252.62" y="382.90" width="19.20" height="2.80" fill="#000" stroke="none" stroke-width="1" opacity="0.07350000000000001" rx="1" filter="url(#blur08)"/>
<rect x="252.62" y="389.90" width="19.20" height="2.80" fill="#000" stroke="none" stroke-width="1" opacity="0.07350000000000001" rx="1" filter="url(#blur08)"/>
<rect x="353.98" y="361.10" width="19.20" height="2.80" fill="#000" stroke="none" stroke-width="1" opacity="0.21000000000000002" rx="1" filter="url(#blur08)"/>
<rect x="353.98" y="364.60" width="19.20" height="2.80" fill="#000" stroke="none" stroke-width="1" opacity="0.315" rx="1" filter="url(#blur08)"/>
<rect x="353.98" y="368.60" width="19.20" height="2.80" fill="#000" stroke="none" stroke-width="1" opacity="0.5775000000000001" rx="1" filter="url(#blur08)"/>
<rect x="353.98" y="373.80" width="19.20" height="2.80" fill="#000" stroke="none" stroke-width="1" opacity="0.29400000000000004" rx="1" filter="url(#blur08)"/>
<rect x="353.98" y="379.10" width="19.20" height="2.80" fill="#000" stroke="none" stroke-width="1" opacity="0.126" rx="1" filter="url(#blur08)"/>
<rect x="353.98" y="384.60" width="19.20" height="2.80" fill="#000" stroke="none" stroke-width="1" opacity="0.063" rx="1" filter="url(#blur08)"/>
<rect x="277.90" y="389.90" width="19.60" height="5.40" fill="#000" stroke="none" stroke-width="1" opacity="0.97" rx="2.7" filter="url(#blur08)"/>
<rect x="278.20" y="380.20" width="19.00" height="3.20" fill="#000" stroke="none" stroke-width="1" opacity="0.03" rx="1.5" filter="url(#blur1)"/>
<rect x="277.90" y="412.30" width="19.60" height="5.20" fill="#000" stroke="none" stroke-width="1" opacity="0.96" rx="2.6" filter="url(#blur08)"/>
<rect x="303.40" y="389.90" width="19.60" height="5.40" fill="#000" stroke="none" stroke-width="1" opacity="0.75" rx="2.7" filter="url(#blur08)"/>
<rect x="303.70" y="380.20" width="19.00" height="3.20" fill="#000" stroke="none" stroke-width="1" opacity="0.14" rx="1.5" filter="url(#blur1)"/>
<rect x="303.40" y="412.30" width="19.60" height="5.20" fill="#000" stroke="none" stroke-width="1" opacity="0.96" rx="2.6" filter="url(#blur08)"/>
<rect x="329.00" y="389.90" width="19.60" height="5.40" fill="#000" stroke="none" stroke-width="1" opacity="0.85" rx="2.7" filter="url(#blur08)"/>
<rect x="329.30" y="380.20" width="19.00" height="3.20" fill="#000" stroke="none" stroke-width="1" opacity="0.14" rx="1.5" filter="url(#blur1)"/>
<rect x="329.00" y="412.30" width="19.60" height="5.20" fill="#000" stroke="none" stroke-width="1" opacity="0.96" rx="2.6" filter="url(#blur08)"/>
<text x="0" y="0" font-size="8.8" font-weight="bold" fill="#111" transform="translate(263.30,358.4) rotate(-45)">Marker</text>
<text x="0" y="0" font-size="8.8" font-weight="bold" fill="#111" transform="translate(289.90,358.4) rotate(-45)">si-NC</text>
<text x="0" y="0" font-size="8.8" font-weight="bold" fill="#111" transform="translate(313.50,358.4) rotate(-45)">si-<tspan font-style="italic">SNRPE</tspan>#1</text>
<text x="0" y="0" font-size="8.8" font-weight="bold" fill="#111" transform="translate(339.10,358.4) rotate(-45)">si-<tspan font-style="italic">SNRPE</tspan>#2</text>
<text x="0" y="0" font-size="8.8" font-weight="bold" fill="#111" transform="translate(366.10,358.4) rotate(-45)">Marker</text>
<text x="312.90" y="438.30" font-size="9.8" fill="#111" font-weight="bold" text-anchor="middle" >HEY</text>
<rect x="378.30" y="361.30" width="126.20" height="42.90" fill="url(#ggel1)" stroke="#666" stroke-width="1.0" />
<rect x="378.30" y="407.10" width="126.20" height="16.00" fill="#d3d3d3" stroke="#6a6a6a" stroke-width="1.0" />
<line x1="378.30" y1="426.60" x2="504.50" y2="426.60" stroke="#2a2a2a" stroke-width="1.7" />
<rect x="380.72" y="362.30" width="19.20" height="2.80" fill="#000" stroke="none" stroke-width="1" opacity="0.42000000000000004" rx="1" filter="url(#blur08)"/>
<rect x="380.72" y="365.50" width="19.20" height="2.80" fill="#000" stroke="none" stroke-width="1" opacity="0.7875000000000001" rx="1" filter="url(#blur08)"/>
<rect x="380.72" y="370.80" width="19.20" height="2.80" fill="#000" stroke="none" stroke-width="1" opacity="0.336" rx="1" filter="url(#blur08)"/>
<rect x="380.72" y="376.10" width="19.20" height="2.80" fill="#000" stroke="none" stroke-width="1" opacity="0.231" rx="1" filter="url(#blur08)"/>
<rect x="380.72" y="383.20" width="19.20" height="2.80" fill="#000" stroke="none" stroke-width="1" opacity="0.10500000000000001" rx="1" filter="url(#blur08)"/>
<rect x="380.72" y="391.70" width="19.20" height="2.80" fill="#000" stroke="none" stroke-width="1" opacity="0.052500000000000005" rx="1" filter="url(#blur08)"/>
<rect x="482.88" y="361.60" width="19.20" height="2.80" fill="#000" stroke="none" stroke-width="1" opacity="0.3675" rx="1" filter="url(#blur08)"/>
<rect x="482.88" y="365.20" width="19.20" height="3.60" fill="#000" stroke="none" stroke-width="1" opacity="0.9974999999999999" rx="1" filter="url(#blur08)"/>
<rect x="482.88" y="371.00" width="19.20" height="2.80" fill="#000" stroke="none" stroke-width="1" opacity="0.525" rx="1" filter="url(#blur08)"/>
<rect x="482.88" y="376.60" width="19.20" height="2.80" fill="#000" stroke="none" stroke-width="1" opacity="0.3675" rx="1" filter="url(#blur08)"/>
<rect x="482.88" y="383.10" width="19.20" height="2.80" fill="#000" stroke="none" stroke-width="1" opacity="0.1575" rx="1" filter="url(#blur08)"/>
<rect x="482.88" y="390.60" width="19.20" height="2.80" fill="#000" stroke="none" stroke-width="1" opacity="0.052500000000000005" rx="1" filter="url(#blur08)"/>
<rect x="405.90" y="391.30" width="19.60" height="5.40" fill="#000" stroke="none" stroke-width="1" opacity="0.95" rx="2.7" filter="url(#blur08)"/>
<rect x="406.20" y="380.20" width="19.00" height="3.20" fill="#000" stroke="none" stroke-width="1" opacity="0.03" rx="1.5" filter="url(#blur1)"/>
<rect x="405.90" y="412.30" width="19.60" height="5.20" fill="#000" stroke="none" stroke-width="1" opacity="0.96" rx="2.6" filter="url(#blur08)"/>
<rect x="431.40" y="391.30" width="19.60" height="5.40" fill="#000" stroke="none" stroke-width="1" opacity="0.65" rx="2.7" filter="url(#blur08)"/>
<rect x="431.70" y="380.20" width="19.00" height="3.20" fill="#000" stroke="none" stroke-width="1" opacity="0.14" rx="1.5" filter="url(#blur1)"/>
<rect x="431.40" y="412.30" width="19.60" height="5.20" fill="#000" stroke="none" stroke-width="1" opacity="0.96" rx="2.6" filter="url(#blur08)"/>
<rect x="457.00" y="391.30" width="19.60" height="5.40" fill="#000" stroke="none" stroke-width="1" opacity="0.85" rx="2.7" filter="url(#blur08)"/>
<rect x="457.30" y="380.20" width="19.00" height="3.20" fill="#000" stroke="none" stroke-width="1" opacity="0.14" rx="1.5" filter="url(#blur1)"/>
<rect x="457.00" y="412.30" width="19.60" height="5.20" fill="#000" stroke="none" stroke-width="1" opacity="0.96" rx="2.6" filter="url(#blur08)"/>
<text x="0" y="0" font-size="8.8" font-weight="bold" fill="#111" transform="translate(391.30,358.4) rotate(-45)">Marker</text>
<text x="0" y="0" font-size="8.8" font-weight="bold" fill="#111" transform="translate(417.90,358.4) rotate(-45)">si-NC</text>
<text x="0" y="0" font-size="8.8" font-weight="bold" fill="#111" transform="translate(441.50,358.4) rotate(-45)">si-<tspan font-style="italic">SNRPE</tspan>#1</text>
<text x="0" y="0" font-size="8.8" font-weight="bold" fill="#111" transform="translate(467.10,358.4) rotate(-45)">si-<tspan font-style="italic">SNRPE</tspan>#2</text>
<text x="0" y="0" font-size="8.8" font-weight="bold" fill="#111" transform="translate(494.10,358.4) rotate(-45)">Marker</text>
<text x="441.40" y="438.30" font-size="9.8" fill="#111" font-weight="bold" text-anchor="middle" >SKOV3</text>
<rect x="507.80" y="361.30" width="126.10" height="42.90" fill="url(#ggel2)" stroke="#666" stroke-width="1.0" />
<rect x="507.80" y="407.10" width="126.10" height="16.00" fill="#d3d3d3" stroke="#6a6a6a" stroke-width="1.0" />
<line x1="507.80" y1="426.60" x2="633.90" y2="426.60" stroke="#2a2a2a" stroke-width="1.7" />
<rect x="510.21" y="361.60" width="19.20" height="2.80" fill="#000" stroke="none" stroke-width="1" opacity="0.47250000000000003" rx="1" filter="url(#blur08)"/>
<rect x="510.21" y="364.80" width="19.20" height="3.60" fill="#000" stroke="none" stroke-width="1" opacity="1.0" rx="1" filter="url(#blur08)"/>
<rect x="510.21" y="371.00" width="19.20" height="2.80" fill="#000" stroke="none" stroke-width="1" opacity="0.525" rx="1" filter="url(#blur08)"/>
<rect x="510.21" y="376.60" width="19.20" height="2.80" fill="#000" stroke="none" stroke-width="1" opacity="0.399" rx="1" filter="url(#blur08)"/>
<rect x="510.21" y="382.80" width="19.20" height="2.80" fill="#000" stroke="none" stroke-width="1" opacity="0.189" rx="1" filter="url(#blur08)"/>
<rect x="510.21" y="390.60" width="19.20" height="2.80" fill="#000" stroke="none" stroke-width="1" opacity="0.063" rx="1" filter="url(#blur08)"/>
<rect x="612.29" y="361.60" width="19.20" height="2.80" fill="#000" stroke="none" stroke-width="1" opacity="0.47250000000000003" rx="1" filter="url(#blur08)"/>
<rect x="612.29" y="364.80" width="19.20" height="3.60" fill="#000" stroke="none" stroke-width="1" opacity="1.0" rx="1" filter="url(#blur08)"/>
<rect x="612.29" y="371.00" width="19.20" height="2.80" fill="#000" stroke="none" stroke-width="1" opacity="0.525" rx="1" filter="url(#blur08)"/>
<rect x="612.29" y="376.60" width="19.20" height="2.80" fill="#000" stroke="none" stroke-width="1" opacity="0.399" rx="1" filter="url(#blur08)"/>
<rect x="612.29" y="382.80" width="19.20" height="2.80" fill="#000" stroke="none" stroke-width="1" opacity="0.189" rx="1" filter="url(#blur08)"/>
<rect x="612.29" y="390.60" width="19.20" height="2.80" fill="#000" stroke="none" stroke-width="1" opacity="0.063" rx="1" filter="url(#blur08)"/>
<rect x="535.40" y="390.80" width="19.60" height="5.40" fill="#000" stroke="none" stroke-width="1" opacity="0.98" rx="2.7" filter="url(#blur08)"/>
<rect x="535.70" y="380.20" width="19.00" height="3.20" fill="#000" stroke="none" stroke-width="1" opacity="0.05" rx="1.5" filter="url(#blur1)"/>
<rect x="535.40" y="412.30" width="19.60" height="5.20" fill="#000" stroke="none" stroke-width="1" opacity="0.96" rx="2.6" filter="url(#blur08)"/>
<rect x="560.90" y="390.80" width="19.60" height="5.40" fill="#000" stroke="none" stroke-width="1" opacity="0.45" rx="2.7" filter="url(#blur08)"/>
<rect x="561.20" y="380.20" width="19.00" height="3.20" fill="#000" stroke="none" stroke-width="1" opacity="0.16" rx="1.5" filter="url(#blur1)"/>
<rect x="560.90" y="412.30" width="19.60" height="5.20" fill="#000" stroke="none" stroke-width="1" opacity="0.96" rx="2.6" filter="url(#blur08)"/>
<rect x="586.50" y="390.80" width="19.60" height="5.40" fill="#000" stroke="none" stroke-width="1" opacity="0.65" rx="2.7" filter="url(#blur08)"/>
<rect x="586.80" y="380.20" width="19.00" height="3.20" fill="#000" stroke="none" stroke-width="1" opacity="0.16" rx="1.5" filter="url(#blur1)"/>
<rect x="586.50" y="412.30" width="19.60" height="5.20" fill="#000" stroke="none" stroke-width="1" opacity="0.96" rx="2.6" filter="url(#blur08)"/>
<text x="0" y="0" font-size="8.8" font-weight="bold" fill="#111" transform="translate(520.80,358.4) rotate(-45)">Marker</text>
<text x="0" y="0" font-size="8.8" font-weight="bold" fill="#111" transform="translate(547.40,358.4) rotate(-45)">si-NC</text>
<text x="0" y="0" font-size="8.8" font-weight="bold" fill="#111" transform="translate(571.00,358.4) rotate(-45)">si-<tspan font-style="italic">SNRPE</tspan>#1</text>
<text x="0" y="0" font-size="8.8" font-weight="bold" fill="#111" transform="translate(596.60,358.4) rotate(-45)">si-<tspan font-style="italic">SNRPE</tspan>#2</text>
<text x="0" y="0" font-size="8.8" font-weight="bold" fill="#111" transform="translate(623.60,358.4) rotate(-45)">Marker</text>
<text x="570.85" y="438.30" font-size="9.8" fill="#111" font-weight="bold" text-anchor="middle" >OVCAR8</text>
<text x="249.00" y="368.20" font-size="6.8" fill="#222" text-anchor="end" letter-spacing="-0.15">300bp</text>
<text x="249.00" y="374.80" font-size="6.8" fill="#222" text-anchor="end" letter-spacing="-0.15">250bp</text>
<text x="249.00" y="381.40" font-size="6.8" fill="#222" text-anchor="end" letter-spacing="-0.15">200bp</text>
<text x="249.00" y="388.00" font-size="6.8" fill="#222" text-anchor="end" letter-spacing="-0.15">150bp</text>
<text x="249.00" y="394.60" font-size="6.8" fill="#222" text-anchor="end" letter-spacing="-0.15">100bp</text>
<text x="249.00" y="401.20" font-size="6.8" fill="#222" text-anchor="end" letter-spacing="-0.15">50bp</text>
<text x="636.90" y="383.70" font-size="8.4" fill="#111" font-weight="bold" >IR + (172bp)</text>
<text x="636.90" y="396.70" font-size="8.4" fill="#111" font-weight="bold" >IR - (93bp)</text>
<text x="636.90" y="417.50" font-size="8.4" fill="#111" font-weight="bold" font-style="italic" >GAPDH</text>
<text x="0.40" y="489.20" font-size="18" fill="#1c1616" font-weight="bold" >G</text>
<line x1="37.50" y1="493.60" x2="37.50" y2="608.20" stroke="#1a1a1a" stroke-width="1.0" />
<line x1="34.40" y1="608.50" x2="37.20" y2="608.50" stroke="#1a1a1a" stroke-width="1.0" />
<text x="33.00" y="610.54" font-size="6.5" fill="#111" font-weight="bold" text-anchor="end" >0.0</text>
<line x1="34.40" y1="570.50" x2="37.20" y2="570.50" stroke="#1a1a1a" stroke-width="1.0" />
<text x="33.00" y="572.39" font-size="6.5" fill="#111" font-weight="bold" text-anchor="end" >0.5</text>
<line x1="34.40" y1="531.50" x2="37.20" y2="531.50" stroke="#1a1a1a" stroke-width="1.0" />
<text x="33.00" y="534.24" font-size="6.5" fill="#111" font-weight="bold" text-anchor="end" >1.0</text>
<line x1="34.40" y1="493.50" x2="37.20" y2="493.50" stroke="#1a1a1a" stroke-width="1.0" />
<text x="33.00" y="496.09" font-size="6.5" fill="#111" font-weight="bold" text-anchor="end" >1.5</text>
<line x1="37.20" y1="608.50" x2="158.80" y2="608.50" stroke="#1a1a1a" stroke-width="1.0" />
<line x1="37.50" y1="608.20" x2="37.50" y2="610.60" stroke="#1a1a1a" stroke-width="1" />
<text x="37.20" y="618.50" font-size="6.5" fill="#111" font-weight="bold" text-anchor="middle" >0</text>
<line x1="61.50" y1="608.20" x2="61.50" y2="610.60" stroke="#1a1a1a" stroke-width="1" />
<text x="61.52" y="618.50" font-size="6.5" fill="#111" font-weight="bold" text-anchor="middle" >2</text>
<line x1="85.50" y1="608.20" x2="85.50" y2="610.60" stroke="#1a1a1a" stroke-width="1" />
<text x="85.84" y="618.50" font-size="6.5" fill="#111" font-weight="bold" text-anchor="middle" >4</text>
<line x1="110.50" y1="608.20" x2="110.50" y2="610.60" stroke="#1a1a1a" stroke-width="1" />
<text x="110.16" y="618.50" font-size="6.5" fill="#111" font-weight="bold" text-anchor="middle" >6</text>
<line x1="134.50" y1="608.20" x2="134.50" y2="610.60" stroke="#1a1a1a" stroke-width="1" />
<text x="134.48" y="618.50" font-size="6.5" fill="#111" font-weight="bold" text-anchor="middle" >8</text>
<line x1="158.50" y1="608.20" x2="158.50" y2="610.60" stroke="#1a1a1a" stroke-width="1" />
<text x="158.80" y="618.50" font-size="6.5" fill="#111" font-weight="bold" text-anchor="middle" >10</text>
<text x="98.00" y="627.40" font-size="7.0" fill="#111" font-weight="bold" text-anchor="middle" >hour(s)</text>
<text x="0" y="0" font-size="7.4" font-weight="bold" text-anchor="middle" fill="#111" transform="translate(11.10,550.30) rotate(-90)" textLength="79.50" lengthAdjust="spacingAndGlyphs"><tspan font-style="italic">CTPS1</tspan> mRNA expression</text>
<text x="0" y="0" font-size="7.4" font-weight="bold" text-anchor="middle" fill="#111" transform="translate(19.30,550.60) rotate(-90)" textLength="58.40" lengthAdjust="spacingAndGlyphs">(relative to 0 hour)</text>
<polyline points="37.20,531.90 61.52,576.15 85.84,589.89 134.48,605.91" fill="none" stroke="#f26a6a" stroke-width="1.35" />
<line x1="37.50" y1="539.53" x2="37.50" y2="525.80" stroke="#f26a6a" stroke-width="0.8" opacity="0.8"/>
<line x1="34.50" y1="539.50" x2="39.90" y2="539.50" stroke="#f26a6a" stroke-width="0.8" opacity="0.8"/>
<line x1="34.50" y1="525.50" x2="39.90" y2="525.50" stroke="#f26a6a" stroke-width="0.8" opacity="0.8"/>
<rect x="35.50" y="530.20" width="3.40" height="3.40" fill="#f26a6a" stroke="none" stroke-width="1" />
<line x1="61.50" y1="578.44" x2="61.50" y2="573.87" stroke="#f26a6a" stroke-width="0.8" opacity="0.8"/>
<line x1="58.82" y1="578.50" x2="64.22" y2="578.50" stroke="#f26a6a" stroke-width="0.8" opacity="0.8"/>
<line x1="58.82" y1="573.50" x2="64.22" y2="573.50" stroke="#f26a6a" stroke-width="0.8" opacity="0.8"/>
<rect x="59.82" y="574.45" width="3.40" height="3.40" fill="#f26a6a" stroke="none" stroke-width="1" />
<line x1="85.50" y1="594.47" x2="85.50" y2="583.78" stroke="#f26a6a" stroke-width="0.8" opacity="0.8"/>
<line x1="83.14" y1="594.50" x2="88.54" y2="594.50" stroke="#f26a6a" stroke-width="0.8" opacity="0.8"/>
<line x1="83.14" y1="583.50" x2="88.54" y2="583.50" stroke="#f26a6a" stroke-width="0.8" opacity="0.8"/>
<rect x="84.14" y="588.19" width="3.40" height="3.40" fill="#f26a6a" stroke="none" stroke-width="1" />
<line x1="134.50" y1="607.44" x2="134.50" y2="604.38" stroke="#f26a6a" stroke-width="0.8" opacity="0.8"/>
<line x1="131.78" y1="607.50" x2="137.18" y2="607.50" stroke="#f26a6a" stroke-width="0.8" opacity="0.8"/>
<line x1="131.78" y1="604.50" x2="137.18" y2="604.50" stroke="#f26a6a" stroke-width="0.8" opacity="0.8"/>
<rect x="132.78" y="604.21" width="3.40" height="3.40" fill="#f26a6a" stroke="none" stroke-width="1" />
<polyline points="37.20,531.90 61.52,534.95 85.84,557.08 134.48,586.07" fill="none" stroke="#1f8c4a" stroke-width="1.35" />
<line x1="37.50" y1="541.06" x2="37.50" y2="522.74" stroke="#1f8c4a" stroke-width="0.8" opacity="0.8"/>
<line x1="34.50" y1="541.50" x2="39.90" y2="541.50" stroke="#1f8c4a" stroke-width="0.8" opacity="0.8"/>
<line x1="34.50" y1="522.50" x2="39.90" y2="522.50" stroke="#1f8c4a" stroke-width="0.8" opacity="0.8"/>
<circle cx="37.20" cy="531.90" r="1.80" fill="#1f8c4a" stroke="none" stroke-width="1" />
<line x1="61.50" y1="542.58" x2="61.50" y2="526.56" stroke="#1f8c4a" stroke-width="0.8" opacity="0.8"/>
<line x1="58.82" y1="542.50" x2="64.22" y2="542.50" stroke="#1f8c4a" stroke-width="0.8" opacity="0.8"/>
<line x1="58.82" y1="526.50" x2="64.22" y2="526.50" stroke="#1f8c4a" stroke-width="0.8" opacity="0.8"/>
<circle cx="61.52" cy="534.95" r="1.80" fill="#1f8c4a" stroke="none" stroke-width="1" />
<line x1="85.50" y1="560.13" x2="85.50" y2="551.74" stroke="#1f8c4a" stroke-width="0.8" opacity="0.8"/>
<line x1="83.14" y1="560.50" x2="88.54" y2="560.50" stroke="#1f8c4a" stroke-width="0.8" opacity="0.8"/>
<line x1="83.14" y1="551.50" x2="88.54" y2="551.50" stroke="#1f8c4a" stroke-width="0.8" opacity="0.8"/>
<circle cx="85.84" cy="557.08" r="1.80" fill="#1f8c4a" stroke="none" stroke-width="1" />
<line x1="134.50" y1="587.60" x2="134.50" y2="584.55" stroke="#1f8c4a" stroke-width="0.8" opacity="0.8"/>
<line x1="131.78" y1="587.50" x2="137.18" y2="587.50" stroke="#1f8c4a" stroke-width="0.8" opacity="0.8"/>
<line x1="131.78" y1="584.50" x2="137.18" y2="584.50" stroke="#1f8c4a" stroke-width="0.8" opacity="0.8"/>
<circle cx="134.48" cy="586.07" r="1.80" fill="#1f8c4a" stroke="none" stroke-width="1" />
<text x="61.52" y="526.17" font-size="8.5" fill="#111" font-weight="bold" text-anchor="middle" >*</text>
<text x="85.84" y="550.47" font-size="8.5" fill="#111" font-weight="bold" text-anchor="middle" >**</text>
<text x="134.48" y="584.57" font-size="8.5" fill="#111" font-weight="bold" text-anchor="middle" >**</text>
<line x1="47.70" y1="498.50" x2="57.60" y2="498.50" stroke="#1f8c4a" stroke-width="1.1" />
<circle cx="52.65" cy="498.00" r="1.60" fill="#1f8c4a" stroke="none" stroke-width="1" />
<text x="61.60" y="500.40" font-size="6.8" fill="#111" textLength="68.70" lengthAdjust="spacingAndGlyphs" >Total <tspan font-style="italic">CTPS1</tspan> transcripts</text>
<line x1="47.70" y1="509.50" x2="57.60" y2="509.50" stroke="#f26a6a" stroke-width="1.1" />
<rect x="51.15" y="507.70" width="3.00" height="3.00" fill="#f26a6a" stroke="none" stroke-width="1" />
<text x="61.60" y="511.60" font-size="6.8" fill="#111" textLength="102.70" lengthAdjust="spacingAndGlyphs" >Intron 15-retained <tspan font-style="italic">CTPS1</tspan> transcript</text>
<text x="174.40" y="489.90" font-size="18" fill="#1c1616" font-weight="bold" >H</text>
<line x1="207.50" y1="493.60" x2="207.50" y2="608.20" stroke="#1a1a1a" stroke-width="1.0" />
<line x1="204.40" y1="608.50" x2="207.20" y2="608.50" stroke="#1a1a1a" stroke-width="1.0" />
<text x="203.00" y="610.54" font-size="6.5" fill="#111" font-weight="bold" text-anchor="end" >0.0</text>
<line x1="204.40" y1="570.50" x2="207.20" y2="570.50" stroke="#1a1a1a" stroke-width="1.0" />
<text x="203.00" y="572.39" font-size="6.5" fill="#111" font-weight="bold" text-anchor="end" >0.5</text>
<line x1="204.40" y1="531.50" x2="207.20" y2="531.50" stroke="#1a1a1a" stroke-width="1.0" />
<text x="203.00" y="534.24" font-size="6.5" fill="#111" font-weight="bold" text-anchor="end" >1.0</text>
<line x1="204.40" y1="493.50" x2="207.20" y2="493.50" stroke="#1a1a1a" stroke-width="1.0" />
<text x="203.00" y="496.09" font-size="6.5" fill="#111" font-weight="bold" text-anchor="end" >1.5</text>
<line x1="207.20" y1="608.50" x2="328.80" y2="608.50" stroke="#1a1a1a" stroke-width="1.0" />
<line x1="207.50" y1="608.20" x2="207.50" y2="610.60" stroke="#1a1a1a" stroke-width="1" />
<text x="207.20" y="618.50" font-size="6.5" fill="#111" font-weight="bold" text-anchor="middle" >0</text>
<line x1="231.50" y1="608.20" x2="231.50" y2="610.60" stroke="#1a1a1a" stroke-width="1" />
<text x="231.52" y="618.50" font-size="6.5" fill="#111" font-weight="bold" text-anchor="middle" >2</text>
<line x1="255.50" y1="608.20" x2="255.50" y2="610.60" stroke="#1a1a1a" stroke-width="1" />
<text x="255.84" y="618.50" font-size="6.5" fill="#111" font-weight="bold" text-anchor="middle" >4</text>
<line x1="280.50" y1="608.20" x2="280.50" y2="610.60" stroke="#1a1a1a" stroke-width="1" />
<text x="280.16" y="618.50" font-size="6.5" fill="#111" font-weight="bold" text-anchor="middle" >6</text>
<line x1="304.50" y1="608.20" x2="304.50" y2="610.60" stroke="#1a1a1a" stroke-width="1" />
<text x="304.48" y="618.50" font-size="6.5" fill="#111" font-weight="bold" text-anchor="middle" >8</text>
<line x1="328.50" y1="608.20" x2="328.50" y2="610.60" stroke="#1a1a1a" stroke-width="1" />
<text x="328.80" y="618.50" font-size="6.5" fill="#111" font-weight="bold" text-anchor="middle" >10</text>
<text x="268.00" y="627.40" font-size="7.0" fill="#111" font-weight="bold" text-anchor="middle" >hour(s)</text>
<text x="0" y="0" font-size="7.4" font-weight="bold" text-anchor="middle" fill="#111" transform="translate(181.10,550.30) rotate(-90)" textLength="79.50" lengthAdjust="spacingAndGlyphs"><tspan font-style="italic">CTPS1</tspan> mRNA expression</text>
<text x="0" y="0" font-size="7.4" font-weight="bold" text-anchor="middle" fill="#111" transform="translate(189.30,550.60) rotate(-90)" textLength="58.40" lengthAdjust="spacingAndGlyphs">(relative to 0 hour)</text>
<polyline points="207.20,531.90 231.52,569.29 255.84,579.21 304.48,586.07" fill="none" stroke="#f5a030" stroke-width="1.35" />
<line x1="207.50" y1="539.53" x2="207.50" y2="525.80" stroke="#f5a030" stroke-width="0.8" opacity="0.8"/>
<line x1="204.50" y1="539.50" x2="209.90" y2="539.50" stroke="#f5a030" stroke-width="0.8" opacity="0.8"/>
<line x1="204.50" y1="525.50" x2="209.90" y2="525.50" stroke="#f5a030" stroke-width="0.8" opacity="0.8"/>
<rect x="205.50" y="530.20" width="3.40" height="3.40" fill="#f5a030" stroke="none" stroke-width="1" />
<line x1="231.50" y1="571.58" x2="231.50" y2="567.00" stroke="#f5a030" stroke-width="0.8" opacity="0.8"/>
<line x1="228.82" y1="571.50" x2="234.22" y2="571.50" stroke="#f5a030" stroke-width="0.8" opacity="0.8"/>
<line x1="228.82" y1="566.50" x2="234.22" y2="566.50" stroke="#f5a030" stroke-width="0.8" opacity="0.8"/>
<rect x="229.82" y="567.59" width="3.40" height="3.40" fill="#f5a030" stroke="none" stroke-width="1" />
<line x1="255.50" y1="580.73" x2="255.50" y2="577.68" stroke="#f5a030" stroke-width="0.8" opacity="0.8"/>
<line x1="253.14" y1="580.50" x2="258.54" y2="580.50" stroke="#f5a030" stroke-width="0.8" opacity="0.8"/>
<line x1="253.14" y1="577.50" x2="258.54" y2="577.50" stroke="#f5a030" stroke-width="0.8" opacity="0.8"/>
<rect x="254.14" y="577.51" width="3.40" height="3.40" fill="#f5a030" stroke="none" stroke-width="1" />
<line x1="304.50" y1="589.89" x2="304.50" y2="582.26" stroke="#f5a030" stroke-width="0.8" opacity="0.8"/>
<line x1="301.78" y1="589.50" x2="307.18" y2="589.50" stroke="#f5a030" stroke-width="0.8" opacity="0.8"/>
<line x1="301.78" y1="582.50" x2="307.18" y2="582.50" stroke="#f5a030" stroke-width="0.8" opacity="0.8"/>
<rect x="302.78" y="584.37" width="3.40" height="3.40" fill="#f5a030" stroke="none" stroke-width="1" />
<polyline points="207.20,531.90 231.52,534.95 255.84,557.08 304.48,586.07" fill="none" stroke="#1f4e96" stroke-width="1.35" />
<line x1="207.50" y1="541.06" x2="207.50" y2="522.74" stroke="#1f4e96" stroke-width="0.8" opacity="0.8"/>
<line x1="204.50" y1="541.50" x2="209.90" y2="541.50" stroke="#1f4e96" stroke-width="0.8" opacity="0.8"/>
<line x1="204.50" y1="522.50" x2="209.90" y2="522.50" stroke="#1f4e96" stroke-width="0.8" opacity="0.8"/>
<circle cx="207.20" cy="531.90" r="1.80" fill="#1f4e96" stroke="none" stroke-width="1" />
<line x1="231.50" y1="542.58" x2="231.50" y2="526.56" stroke="#1f4e96" stroke-width="0.8" opacity="0.8"/>
<line x1="228.82" y1="542.50" x2="234.22" y2="542.50" stroke="#1f4e96" stroke-width="0.8" opacity="0.8"/>
<line x1="228.82" y1="526.50" x2="234.22" y2="526.50" stroke="#1f4e96" stroke-width="0.8" opacity="0.8"/>
<circle cx="231.52" cy="534.95" r="1.80" fill="#1f4e96" stroke="none" stroke-width="1" />
<line x1="255.50" y1="560.13" x2="255.50" y2="551.74" stroke="#1f4e96" stroke-width="0.8" opacity="0.8"/>
<line x1="253.14" y1="560.50" x2="258.54" y2="560.50" stroke="#1f4e96" stroke-width="0.8" opacity="0.8"/>
<line x1="253.14" y1="551.50" x2="258.54" y2="551.50" stroke="#1f4e96" stroke-width="0.8" opacity="0.8"/>
<circle cx="255.84" cy="557.08" r="1.80" fill="#1f4e96" stroke="none" stroke-width="1" />
<line x1="304.50" y1="587.60" x2="304.50" y2="584.55" stroke="#1f4e96" stroke-width="0.8" opacity="0.8"/>
<line x1="301.78" y1="587.50" x2="307.18" y2="587.50" stroke="#1f4e96" stroke-width="0.8" opacity="0.8"/>
<line x1="301.78" y1="584.50" x2="307.18" y2="584.50" stroke="#1f4e96" stroke-width="0.8" opacity="0.8"/>
<circle cx="304.48" cy="586.07" r="1.80" fill="#1f4e96" stroke="none" stroke-width="1" />
<text x="231.52" y="526.17" font-size="8.5" fill="#111" font-weight="bold" text-anchor="middle" >*</text>
<text x="255.84" y="550.47" font-size="8.5" fill="#111" font-weight="bold" text-anchor="middle" >**</text>
<line x1="224.60" y1="504.50" x2="234.50" y2="504.50" stroke="#1f4e96" stroke-width="1.1" />
<circle cx="229.55" cy="504.00" r="1.60" fill="#1f4e96" stroke="none" stroke-width="1" />
<text x="238.30" y="506.40" font-size="6.8" fill="#111" textLength="16.60" lengthAdjust="spacingAndGlyphs" >si-NC</text>
<line x1="272.30" y1="504.50" x2="282.20" y2="504.50" stroke="#f5a030" stroke-width="1.1" />
<rect x="275.75" y="502.50" width="3.00" height="3.00" fill="#f5a030" stroke="none" stroke-width="1" />
<text x="285.40" y="506.40" font-size="6.8" fill="#111" textLength="37.20" lengthAdjust="spacingAndGlyphs" >si-<tspan font-style="italic">SNRPE</tspan>#2</text>
<text x="350.80" y="489.40" font-size="18" fill="#1c1616" font-weight="bold" >I</text>
<line x1="386.50" y1="503.20" x2="386.50" y2="610.50" stroke="#1a1a1a" stroke-width="1.0" />
<line x1="383.20" y1="610.50" x2="386.20" y2="610.50" stroke="#1a1a1a" stroke-width="1.0" />
<text x="381.80" y="612.77" font-size="6.3" fill="#111" font-weight="bold" text-anchor="end" >0.0</text>
<line x1="383.20" y1="575.50" x2="386.20" y2="575.50" stroke="#1a1a1a" stroke-width="1.0" />
<text x="381.80" y="577.27" font-size="6.3" fill="#111" font-weight="bold" text-anchor="end" >0.5</text>
<line x1="383.20" y1="539.50" x2="386.20" y2="539.50" stroke="#1a1a1a" stroke-width="1.0" />
<text x="381.80" y="541.77" font-size="6.3" fill="#111" font-weight="bold" text-anchor="end" >1.0</text>
<line x1="383.20" y1="504.50" x2="386.20" y2="504.50" stroke="#1a1a1a" stroke-width="1.0" />
<text x="381.80" y="506.27" font-size="6.3" fill="#111" font-weight="bold" text-anchor="end" >1.5</text>
<line x1="383.20" y1="610.50" x2="488.90" y2="610.50" stroke="#1a1a1a" stroke-width="1.1" />
<rect x="390.90" y="479.50" width="11.00" height="3.60" fill="#3d6aa8" stroke="#1f4f8f" stroke-width="1.0" />
<line x1="392.90" y1="481.30" x2="399.90" y2="481.30" stroke="#a8bde0" stroke-width="0.6" stroke-dasharray="1,0.8"/>
<text x="406.50" y="483.50" font-size="6.5" fill="#111" >si-NC</text>
<rect x="431.80" y="479.50" width="10.60" height="3.60" fill="#f7b86e" stroke="#f5a447" stroke-width="1.0" />
<line x1="433.80" y1="481.30" x2="440.40" y2="481.30" stroke="#fde2c0" stroke-width="0.6" stroke-dasharray="1,0.8"/>
<text x="446.20" y="483.50" font-size="6.5" fill="#111" textLength="34.80" lengthAdjust="spacingAndGlyphs" >si-<tspan font-style="italic">SNRPE</tspan>#2</text>
<line x1="399.95" y1="536.66" x2="399.95" y2="539.50" stroke="#1f4f8f" stroke-width="1.6" />
<line x1="396.20" y1="536.66" x2="403.70" y2="536.66" stroke="#1f4f8f" stroke-width="1.6" />
<rect x="393.90" y="540.30" width="12.10" height="70.20" fill="url(#pblue)" stroke="#1f4f8f" stroke-width="1.6" />
<line x1="420.95" y1="565.06" x2="420.95" y2="568.61" stroke="#f5a447" stroke-width="1.6" />
<line x1="417.20" y1="565.06" x2="424.70" y2="565.06" stroke="#f5a447" stroke-width="1.6" />
<rect x="414.90" y="569.41" width="12.10" height="41.09" fill="url(#porange)" stroke="#f5a447" stroke-width="1.6" />
<line x1="454.85" y1="535.24" x2="454.85" y2="539.50" stroke="#1f4f8f" stroke-width="1.6" />
<line x1="451.10" y1="535.24" x2="458.60" y2="535.24" stroke="#1f4f8f" stroke-width="1.6" />
<rect x="448.80" y="540.30" width="12.10" height="70.20" fill="url(#pblue)" stroke="#1f4f8f" stroke-width="1.6" />
<line x1="475.35" y1="511.10" x2="475.35" y2="517.49" stroke="#f5a447" stroke-width="1.6" />
<line x1="471.60" y1="511.10" x2="479.10" y2="511.10" stroke="#f5a447" stroke-width="1.6" />
<rect x="469.30" y="518.29" width="12.10" height="92.21" fill="url(#porange)" stroke="#f5a447" stroke-width="1.6" />
<line x1="410.50" y1="610.50" x2="410.50" y2="613.00" stroke="#1a1a1a" stroke-width="1" />
<line x1="465.50" y1="610.50" x2="465.50" y2="613.00" stroke="#1a1a1a" stroke-width="1" />
<line x1="383.20" y1="610.50" x2="488.90" y2="610.50" stroke="#1a1a1a" stroke-width="1.3" />
<polyline points="399.50,530.80 399.50,509.50 420.50,509.50 420.50,561.20" fill="none" stroke="#3a3a3a" stroke-width="0.9" />
<text x="409.90" y="510.28" font-size="9.0" fill="#111" font-weight="bold" text-anchor="middle" >**</text>
<polyline points="454.50,527.10 454.50,500.50 475.50,500.50 475.50,506.00" fill="none" stroke="#3a3a3a" stroke-width="0.9" />
<text x="464.80" y="501.18" font-size="9.0" fill="#111" font-weight="bold" text-anchor="middle" >**</text>
<text x="410.20" y="620.90" font-size="7.0" fill="#111" font-weight="bold" text-anchor="middle" >si-NC</text>
<text x="465.30" y="620.90" font-size="7.0" fill="#111" font-weight="bold" text-anchor="middle" >si-<tspan font-style="italic">UPF1</tspan></text>
<text x="0" y="0" font-size="7.4" font-weight="bold" text-anchor="middle" fill="#111" transform="translate(369.10,557.10) rotate(-90)" textLength="81.50" lengthAdjust="spacingAndGlyphs"><tspan font-style="italic">CTPS1</tspan> mRNA expression</text>
<circle cx="397.50" cy="541.50" r="1.00" fill="#222" stroke="none" stroke-width="1" />
<circle cx="400.00" cy="536.50" r="1.00" fill="#222" stroke="none" stroke-width="1" />
<circle cx="402.50" cy="540.00" r="1.00" fill="#222" stroke="none" stroke-width="1" />
<circle cx="418.00" cy="567.80" r="1.00" fill="#222" stroke="none" stroke-width="1" />
<circle cx="420.50" cy="566.00" r="1.00" fill="#222" stroke="none" stroke-width="1" />
<circle cx="423.00" cy="568.20" r="1.00" fill="#222" stroke="none" stroke-width="1" />
<circle cx="452.00" cy="539.00" r="1.00" fill="#222" stroke="none" stroke-width="1" />
<circle cx="455.00" cy="534.50" r="1.00" fill="#222" stroke="none" stroke-width="1" />
<circle cx="455.00" cy="541.00" r="1.00" fill="#222" stroke="none" stroke-width="1" />
<circle cx="473.00" cy="519.00" r="1.00" fill="#222" stroke="none" stroke-width="1" />
<circle cx="478.00" cy="519.00" r="1.00" fill="#222" stroke="none" stroke-width="1" />
<circle cx="475.50" cy="514.50" r="1.00" fill="#222" stroke="none" stroke-width="1" />
<text x="517.20" y="489.90" font-size="18" fill="#1c1616" font-weight="bold" >J</text>
<line x1="555.50" y1="502.00" x2="555.50" y2="609.30" stroke="#1a1a1a" stroke-width="1.0" />
<line x1="552.90" y1="609.50" x2="555.90" y2="609.50" stroke="#1a1a1a" stroke-width="1.0" />
<text x="551.50" y="611.57" font-size="6.3" fill="#111" font-weight="bold" text-anchor="end" >0.0</text>
<line x1="552.90" y1="573.50" x2="555.90" y2="573.50" stroke="#1a1a1a" stroke-width="1.0" />
<text x="551.50" y="576.07" font-size="6.3" fill="#111" font-weight="bold" text-anchor="end" >0.5</text>
<line x1="552.90" y1="538.50" x2="555.90" y2="538.50" stroke="#1a1a1a" stroke-width="1.0" />
<text x="551.50" y="540.57" font-size="6.3" fill="#111" font-weight="bold" text-anchor="end" >1.0</text>
<line x1="552.90" y1="502.50" x2="555.90" y2="502.50" stroke="#1a1a1a" stroke-width="1.0" />
<text x="551.50" y="505.07" font-size="6.3" fill="#111" font-weight="bold" text-anchor="end" >1.5</text>
<line x1="552.90" y1="609.50" x2="659.00" y2="609.50" stroke="#1a1a1a" stroke-width="1.1" />
<rect x="561.10" y="479.70" width="11.00" height="3.60" fill="#3d6aa8" stroke="#1f4f8f" stroke-width="1.0" />
<line x1="563.10" y1="481.50" x2="570.10" y2="481.50" stroke="#a8bde0" stroke-width="0.6" stroke-dasharray="1,0.8"/>
<text x="576.40" y="483.70" font-size="6.5" fill="#111" >si-NC</text>
<rect x="601.50" y="479.70" width="10.60" height="3.60" fill="#f7b86e" stroke="#f5a447" stroke-width="1.0" />
<line x1="603.50" y1="481.50" x2="610.10" y2="481.50" stroke="#fde2c0" stroke-width="0.6" stroke-dasharray="1,0.8"/>
<text x="617.30" y="483.70" font-size="6.5" fill="#111" textLength="34.80" lengthAdjust="spacingAndGlyphs" >si-<tspan font-style="italic">SNRPE</tspan>#2</text>
<line x1="570.40" y1="531.20" x2="570.40" y2="538.30" stroke="#1f4f8f" stroke-width="1.6" />
<line x1="566.65" y1="531.20" x2="574.15" y2="531.20" stroke="#1f4f8f" stroke-width="1.6" />
<rect x="564.40" y="539.10" width="12.00" height="70.20" fill="url(#pblue)" stroke="#1f4f8f" stroke-width="1.6" />
<line x1="590.90" y1="562.44" x2="590.90" y2="565.99" stroke="#f5a447" stroke-width="1.6" />
<line x1="587.15" y1="562.44" x2="594.65" y2="562.44" stroke="#f5a447" stroke-width="1.6" />
<rect x="584.90" y="566.79" width="12.00" height="42.51" fill="url(#porange)" stroke="#f5a447" stroke-width="1.6" />
<line x1="625.00" y1="531.20" x2="625.00" y2="538.30" stroke="#1f4f8f" stroke-width="1.6" />
<line x1="621.25" y1="531.20" x2="628.75" y2="531.20" stroke="#1f4f8f" stroke-width="1.6" />
<rect x="619.00" y="539.10" width="12.00" height="70.20" fill="url(#pblue)" stroke="#1f4f8f" stroke-width="1.6" />
<line x1="645.70" y1="522.68" x2="645.70" y2="534.75" stroke="#f5a447" stroke-width="1.6" />
<line x1="641.95" y1="522.68" x2="649.45" y2="522.68" stroke="#f5a447" stroke-width="1.6" />
<rect x="639.70" y="535.55" width="12.00" height="73.75" fill="url(#porange)" stroke="#f5a447" stroke-width="1.6" />
<line x1="580.50" y1="609.30" x2="580.50" y2="611.80" stroke="#1a1a1a" stroke-width="1" />
<line x1="635.50" y1="609.30" x2="635.50" y2="611.80" stroke="#1a1a1a" stroke-width="1" />
<line x1="552.90" y1="609.50" x2="659.00" y2="609.50" stroke="#1a1a1a" stroke-width="1.3" />
<polyline points="570.50,524.90 570.50,510.50 591.50,510.50 591.50,557.70" fill="none" stroke="#3a3a3a" stroke-width="0.9" />
<text x="580.60" y="512.58" font-size="9.0" fill="#111" font-weight="bold" text-anchor="middle" >**</text>
<polyline points="624.50,525.70 624.50,510.50 645.50,510.50 645.50,519.80" fill="none" stroke="#3a3a3a" stroke-width="0.9" />
<text x="635.00" y="505.80" font-size="6.6" fill="#222" text-anchor="middle" >ns</text>
<text x="580.30" y="619.70" font-size="7.0" fill="#111" font-weight="bold" text-anchor="middle" >DMSO</text>
<text x="635.20" y="619.70" font-size="7.0" fill="#111" font-weight="bold" text-anchor="middle" >CHX</text>
<text x="0" y="0" font-size="7.4" font-weight="bold" text-anchor="middle" fill="#111" transform="translate(539.30,555.50) rotate(-90)" textLength="81.50" lengthAdjust="spacingAndGlyphs"><tspan font-style="italic">CTPS1</tspan> mRNA expression</text>
<circle cx="570.30" cy="545.30" r="1.00" fill="#222" stroke="none" stroke-width="1" />
<circle cx="570.30" cy="535.30" r="1.00" fill="#222" stroke="none" stroke-width="1" />
<circle cx="570.30" cy="531.10" r="1.00" fill="#222" stroke="none" stroke-width="1" />
<circle cx="588.50" cy="567.00" r="1.00" fill="#222" stroke="none" stroke-width="1" />
<circle cx="592.00" cy="565.00" r="1.00" fill="#222" stroke="none" stroke-width="1" />
<circle cx="594.50" cy="567.50" r="1.00" fill="#222" stroke="none" stroke-width="1" />
<circle cx="622.50" cy="541.60" r="1.00" fill="#222" stroke="none" stroke-width="1" />
<circle cx="627.00" cy="541.60" r="1.00" fill="#222" stroke="none" stroke-width="1" />
<circle cx="624.80" cy="531.50" r="1.00" fill="#222" stroke="none" stroke-width="1" />
<circle cx="642.50" cy="541.10" r="1.00" fill="#222" stroke="none" stroke-width="1" />
<circle cx="648.00" cy="541.10" r="1.00" fill="#222" stroke="none" stroke-width="1" />
<circle cx="645.50" cy="521.50" r="1.00" fill="#222" stroke="none" stroke-width="1" />
<text x="-0.60" y="655.60" font-size="18" fill="#1c1616" font-weight="bold" >K</text>
<line x1="24.50" y1="674.20" x2="24.50" y2="737.20" stroke="#1a1a1a" stroke-width="1.0" />
<line x1="24.50" y1="744.70" x2="24.50" y2="771.50" stroke="#1a1a1a" stroke-width="1.0" />
<line x1="21.30" y1="716.50" x2="24.10" y2="716.50" stroke="#1a1a1a" stroke-width="1" />
<text x="19.90" y="719.00" font-size="6.6" fill="#111" font-weight="bold" text-anchor="end" >40</text>
<line x1="21.30" y1="695.50" x2="24.10" y2="695.50" stroke="#1a1a1a" stroke-width="1" />
<text x="19.90" y="698.05" font-size="6.6" fill="#111" font-weight="bold" text-anchor="end" >60</text>
<line x1="21.30" y1="674.50" x2="24.10" y2="674.50" stroke="#1a1a1a" stroke-width="1" />
<text x="19.90" y="677.10" font-size="6.6" fill="#111" font-weight="bold" text-anchor="end" >80</text>
<line x1="21.30" y1="771.50" x2="24.10" y2="771.50" stroke="#1a1a1a" stroke-width="1" />
<text x="19.90" y="773.90" font-size="6.6" fill="#111" font-weight="bold" text-anchor="end" >0</text>
<line x1="21.30" y1="758.50" x2="24.10" y2="758.50" stroke="#1a1a1a" stroke-width="1" />
<text x="19.90" y="760.50" font-size="6.6" fill="#111" font-weight="bold" text-anchor="end" >1</text>
<line x1="21.30" y1="744.50" x2="24.10" y2="744.50" stroke="#1a1a1a" stroke-width="1" />
<text x="19.90" y="747.10" font-size="6.6" fill="#111" font-weight="bold" text-anchor="end" >2</text>
<line x1="21.30" y1="737.50" x2="24.10" y2="737.50" stroke="#1a1a1a" stroke-width="1" />
<line x1="24.10" y1="771.50" x2="161.30" y2="771.50" stroke="#1a1a1a" stroke-width="1.1" />
<line x1="37.50" y1="757.43" x2="37.50" y2="758.10" stroke="#f46a6a" stroke-width="1.3" />
<line x1="33.95" y1="757.50" x2="40.95" y2="757.50" stroke="#f46a6a" stroke-width="1.3" />
<rect x="31.65" y="758.75" width="11.60" height="12.75" fill="url(#pred)" stroke="#f46a6a" stroke-width="1.3" />
<circle cx="34.50" cy="758.37" r="1.00" fill="#222" stroke="none" stroke-width="1" />
<circle cx="40.50" cy="758.10" r="1.00" fill="#222" stroke="none" stroke-width="1" />
<rect x="51.55" y="744.70" width="11.60" height="26.15" fill="url(#pgreen)" stroke="none" stroke-width="1" />
<line x1="51.50" y1="744.70" x2="51.50" y2="771.50" stroke="#3a9a3a" stroke-width="1.3" />
<line x1="63.50" y1="744.70" x2="63.50" y2="771.50" stroke="#3a9a3a" stroke-width="1.3" />
<line x1="57.50" y1="703.51" x2="57.50" y2="707.17" stroke="#3a9a3a" stroke-width="1.3" />
<line x1="53.85" y1="703.50" x2="60.85" y2="703.50" stroke="#3a9a3a" stroke-width="1.3" />
<rect x="51.55" y="707.82" width="11.60" height="30.03" fill="url(#pgreen)" stroke="none" stroke-width="1" />
<polyline points="51.55,737.20 51.55,707.82 63.15,707.82 63.15,737.20" fill="none" stroke="#3a9a3a" stroke-width="1.3" />
<circle cx="53.90" cy="708.74" r="1.00" fill="#222" stroke="none" stroke-width="1" />
<circle cx="57.40" cy="703.51" r="1.00" fill="#222" stroke="none" stroke-width="1" />
<circle cx="60.40" cy="707.70" r="1.00" fill="#222" stroke="none" stroke-width="1" />
<rect x="70.85" y="744.70" width="11.60" height="26.15" fill="url(#pgrey)" stroke="none" stroke-width="1" />
<line x1="70.50" y1="744.70" x2="70.50" y2="771.50" stroke="#9a9a9a" stroke-width="1.3" />
<line x1="82.50" y1="744.70" x2="82.50" y2="771.50" stroke="#9a9a9a" stroke-width="1.3" />
<line x1="76.50" y1="692.51" x2="76.50" y2="698.79" stroke="#9a9a9a" stroke-width="1.3" />
<line x1="73.15" y1="692.50" x2="80.15" y2="692.50" stroke="#9a9a9a" stroke-width="1.3" />
<rect x="70.85" y="699.44" width="11.60" height="38.41" fill="url(#pgrey)" stroke="none" stroke-width="1" />
<polyline points="70.85,737.20 70.85,699.44 82.45,699.44 82.45,737.20" fill="none" stroke="#9a9a9a" stroke-width="1.3" />
<circle cx="76.70" cy="702.46" r="1.00" fill="#222" stroke="none" stroke-width="1" />
<circle cx="76.70" cy="694.08" r="1.00" fill="#222" stroke="none" stroke-width="1" />
<circle cx="76.70" cy="699.32" r="1.00" fill="#222" stroke="none" stroke-width="1" />
<line x1="109.50" y1="748.72" x2="109.50" y2="753.41" stroke="#f46a6a" stroke-width="1.3" />
<line x1="105.95" y1="748.50" x2="112.95" y2="748.50" stroke="#f46a6a" stroke-width="1.3" />
<rect x="103.65" y="754.06" width="11.60" height="17.44" fill="url(#pred)" stroke="#f46a6a" stroke-width="1.3" />
<circle cx="106.50" cy="751.40" r="1.00" fill="#222" stroke="none" stroke-width="1" />
<circle cx="109.50" cy="758.77" r="1.00" fill="#222" stroke="none" stroke-width="1" />
<circle cx="112.50" cy="752.07" r="1.00" fill="#222" stroke="none" stroke-width="1" />
<rect x="122.75" y="744.70" width="11.60" height="26.15" fill="url(#pgreen)" stroke="none" stroke-width="1" />
<line x1="122.50" y1="744.70" x2="122.50" y2="771.50" stroke="#3a9a3a" stroke-width="1.3" />
<line x1="134.50" y1="744.70" x2="134.50" y2="771.50" stroke="#3a9a3a" stroke-width="1.3" />
<line x1="128.50" y1="716.60" x2="128.50" y2="721.84" stroke="#3a9a3a" stroke-width="1.3" />
<line x1="125.05" y1="716.50" x2="132.05" y2="716.50" stroke="#3a9a3a" stroke-width="1.3" />
<rect x="122.75" y="722.49" width="11.60" height="15.36" fill="url(#pgreen)" stroke="none" stroke-width="1" />
<polyline points="122.75,737.20 122.75,722.49 134.35,722.49 134.35,737.20" fill="none" stroke="#3a9a3a" stroke-width="1.3" />
<circle cx="125.60" cy="722.88" r="1.00" fill="#222" stroke="none" stroke-width="1" />
<circle cx="128.60" cy="716.60" r="1.00" fill="#222" stroke="none" stroke-width="1" />
<circle cx="131.60" cy="721.31" r="1.00" fill="#222" stroke="none" stroke-width="1" />
<rect x="142.65" y="744.70" width="11.60" height="26.15" fill="url(#pgrey)" stroke="none" stroke-width="1" />
<line x1="142.50" y1="744.70" x2="142.50" y2="771.50" stroke="#9a9a9a" stroke-width="1.3" />
<line x1="154.50" y1="744.70" x2="154.50" y2="771.50" stroke="#9a9a9a" stroke-width="1.3" />
<line x1="148.50" y1="680.99" x2="148.50" y2="688.32" stroke="#9a9a9a" stroke-width="1.3" />
<line x1="144.95" y1="680.50" x2="151.95" y2="680.50" stroke="#9a9a9a" stroke-width="1.3" />
<rect x="142.65" y="688.97" width="11.60" height="48.88" fill="url(#pgrey)" stroke="none" stroke-width="1" />
<polyline points="142.65,737.20 142.65,688.97 154.25,688.97 154.25,737.20" fill="none" stroke="#9a9a9a" stroke-width="1.3" />
<circle cx="148.50" cy="693.56" r="1.00" fill="#222" stroke="none" stroke-width="1" />
<circle cx="148.50" cy="680.99" r="1.00" fill="#222" stroke="none" stroke-width="1" />
<circle cx="148.50" cy="689.37" r="1.00" fill="#222" stroke="none" stroke-width="1" />
<line x1="57.50" y1="771.50" x2="57.50" y2="774.00" stroke="#1a1a1a" stroke-width="1" />
<line x1="128.50" y1="771.50" x2="128.50" y2="774.00" stroke="#1a1a1a" stroke-width="1" />
<line x1="21.00" y1="771.50" x2="161.30" y2="771.50" stroke="#1a1a1a" stroke-width="1.3" />
<polyline points="37.50,752.60 37.50,691.50 57.50,691.50 57.50,698.20" fill="none" stroke="#3a3a3a" stroke-width="0.9" />
<text x="47.20" y="692.38" font-size="9.0" fill="#111" font-weight="bold" text-anchor="middle" >**</text>
<polyline points="109.50,742.20 109.50,692.50 129.50,692.50 129.50,709.50" fill="none" stroke="#3a3a3a" stroke-width="0.9" />
<text x="119.10" y="692.78" font-size="9.0" fill="#111" font-weight="bold" text-anchor="middle" >**</text>
<text x="57.10" y="781.90" font-size="6.8" fill="#111" font-weight="bold" font-style="italic" text-anchor="middle" >CTPS1</text>
<text x="128.70" y="781.90" font-size="6.8" fill="#111" font-weight="bold" font-style="italic" text-anchor="middle" >FGFR4</text>
<text x="0" y="0" font-size="7.8" font-weight="bold" text-anchor="middle" fill="#111" transform="translate(8.80,723.10) rotate(-90)" textLength="55.50" lengthAdjust="spacingAndGlyphs">Fold  Enrichment</text>
<rect x="36.30" y="661.20" width="11.20" height="3.60" fill="url(#pred)" stroke="#f46a6a" stroke-width="1.0" />
<text x="52.10" y="665.30" font-size="6.5" fill="#111" >IgG</text>
<rect x="74.20" y="661.20" width="10.60" height="3.60" fill="url(#pgreen)" stroke="#3a9a3a" stroke-width="1.0" />
<text x="89.40" y="665.30" font-size="6.5" fill="#111" >Anti-Flag</text>
<rect x="123.60" y="661.20" width="10.40" height="3.60" fill="url(#pgrey)" stroke="#9a9a9a" stroke-width="1.0" />
<text x="139.00" y="665.30" font-size="6.5" fill="#111" >Input</text>
<text x="174.20" y="655.00" font-size="18" fill="#1c1616" font-weight="bold" >L</text>
<line x1="205.50" y1="673.00" x2="205.50" y2="767.50" stroke="#1a1a1a" stroke-width="1.0" />
<line x1="201.50" y1="767.50" x2="205.30" y2="767.50" stroke="#1a1a1a" stroke-width="1.0" />
<text x="199.60" y="770.16" font-size="7.4" fill="#111" font-weight="bold" text-anchor="end" >0</text>
<line x1="201.50" y1="748.50" x2="205.30" y2="748.50" stroke="#1a1a1a" stroke-width="1.0" />
<text x="199.60" y="751.28" font-size="7.4" fill="#111" font-weight="bold" text-anchor="end" >10</text>
<line x1="201.50" y1="729.50" x2="205.30" y2="729.50" stroke="#1a1a1a" stroke-width="1.0" />
<text x="199.60" y="732.40" font-size="7.4" fill="#111" font-weight="bold" text-anchor="end" >20</text>
<line x1="201.50" y1="710.50" x2="205.30" y2="710.50" stroke="#1a1a1a" stroke-width="1.0" />
<text x="199.60" y="713.52" font-size="7.4" fill="#111" font-weight="bold" text-anchor="end" >30</text>
<line x1="201.50" y1="691.50" x2="205.30" y2="691.50" stroke="#1a1a1a" stroke-width="1.0" />
<text x="199.60" y="694.64" font-size="7.4" fill="#111" font-weight="bold" text-anchor="end" >40</text>
<line x1="201.50" y1="673.50" x2="205.30" y2="673.50" stroke="#1a1a1a" stroke-width="1.0" />
<text x="199.60" y="675.76" font-size="7.4" fill="#111" font-weight="bold" text-anchor="end" >50</text>
<line x1="201.60" y1="767.50" x2="346.30" y2="767.50" stroke="#1a1a1a" stroke-width="1.1" />
<line x1="213.50" y1="767.10" x2="213.50" y2="769.80" stroke="#1a1a1a" stroke-width="1" />
<text x="213.80" y="779.00" font-size="7.0" fill="#111" font-weight="bold" text-anchor="middle" >0</text>
<line x1="231.50" y1="767.10" x2="231.50" y2="769.80" stroke="#1a1a1a" stroke-width="1" />
<text x="231.51" y="779.00" font-size="7.0" fill="#111" font-weight="bold" text-anchor="middle" >1</text>
<line x1="249.50" y1="767.10" x2="249.50" y2="769.80" stroke="#1a1a1a" stroke-width="1" />
<text x="249.22" y="779.00" font-size="7.0" fill="#111" font-weight="bold" text-anchor="middle" >2</text>
<line x1="266.50" y1="767.10" x2="266.50" y2="769.80" stroke="#1a1a1a" stroke-width="1" />
<text x="266.93" y="779.00" font-size="7.0" fill="#111" font-weight="bold" text-anchor="middle" >3</text>
<line x1="284.50" y1="767.10" x2="284.50" y2="769.80" stroke="#1a1a1a" stroke-width="1" />
<text x="284.64" y="779.00" font-size="7.0" fill="#111" font-weight="bold" text-anchor="middle" >4</text>
<line x1="302.50" y1="767.10" x2="302.50" y2="769.80" stroke="#1a1a1a" stroke-width="1" />
<text x="302.35" y="779.00" font-size="7.0" fill="#111" font-weight="bold" text-anchor="middle" >5</text>
<line x1="320.50" y1="767.10" x2="320.50" y2="769.80" stroke="#1a1a1a" stroke-width="1" />
<text x="320.06" y="779.00" font-size="7.0" fill="#111" font-weight="bold" text-anchor="middle" >6</text>
<line x1="337.50" y1="767.10" x2="337.50" y2="769.80" stroke="#1a1a1a" stroke-width="1" />
<text x="337.77" y="779.00" font-size="7.0" fill="#111" font-weight="bold" text-anchor="middle" >7</text>
<text x="276.00" y="791.00" font-size="7.6" fill="#111" font-weight="bold" text-anchor="middle" >Days</text>
<text x="0" y="0" font-size="7.8" font-weight="bold" text-anchor="middle" fill="#111" transform="translate(186.80,720.30) rotate(-90)" textLength="76.50" lengthAdjust="spacingAndGlyphs">Relative cell viability</text>
<polyline points="213.80,765.61 231.51,764.10 249.22,762.78 266.93,758.06 284.64,749.56 302.35,742.96 320.06,725.96 337.77,710.86" fill="none" stroke="#7ee82a" stroke-width="1.4" />
<polygon points="213.80,763.45 215.78,767.05 211.82,767.05" fill="#7ee82a" stroke="none" stroke-width="1" />
<polygon points="231.51,761.94 233.49,765.54 229.53,765.54" fill="#7ee82a" stroke="none" stroke-width="1" />
<polygon points="249.22,760.62 251.20,764.22 247.24,764.22" fill="#7ee82a" stroke="none" stroke-width="1" />
<line x1="266.50" y1="759.00" x2="266.50" y2="757.12" stroke="#7ee82a" stroke-width="0.8" />
<line x1="263.93" y1="759.50" x2="269.93" y2="759.50" stroke="#7ee82a" stroke-width="0.8" />
<line x1="263.93" y1="757.50" x2="269.93" y2="757.50" stroke="#7ee82a" stroke-width="0.8" />
<polygon points="266.93,755.90 268.91,759.50 264.95,759.50" fill="#7ee82a" stroke="none" stroke-width="1" />
<line x1="284.50" y1="751.07" x2="284.50" y2="748.05" stroke="#7ee82a" stroke-width="0.8" />
<line x1="281.64" y1="751.50" x2="287.64" y2="751.50" stroke="#7ee82a" stroke-width="0.8" />
<line x1="281.64" y1="748.50" x2="287.64" y2="748.50" stroke="#7ee82a" stroke-width="0.8" />
<polygon points="284.64,747.40 286.62,751.00 282.66,751.00" fill="#7ee82a" stroke="none" stroke-width="1" />
<line x1="302.50" y1="744.47" x2="302.50" y2="741.45" stroke="#7ee82a" stroke-width="0.8" />
<line x1="299.35" y1="744.50" x2="305.35" y2="744.50" stroke="#7ee82a" stroke-width="0.8" />
<line x1="299.35" y1="741.50" x2="305.35" y2="741.50" stroke="#7ee82a" stroke-width="0.8" />
<polygon points="302.35,740.80 304.33,744.40 300.37,744.40" fill="#7ee82a" stroke="none" stroke-width="1" />
<line x1="320.50" y1="731.25" x2="320.50" y2="720.68" stroke="#7ee82a" stroke-width="0.8" />
<line x1="317.06" y1="731.50" x2="323.06" y2="731.50" stroke="#7ee82a" stroke-width="0.8" />
<line x1="317.06" y1="720.50" x2="323.06" y2="720.50" stroke="#7ee82a" stroke-width="0.8" />
<polygon points="320.06,723.80 322.04,727.40 318.08,727.40" fill="#7ee82a" stroke="none" stroke-width="1" />
<line x1="337.50" y1="716.52" x2="337.50" y2="705.20" stroke="#7ee82a" stroke-width="0.8" />
<line x1="334.77" y1="716.50" x2="340.77" y2="716.50" stroke="#7ee82a" stroke-width="0.8" />
<line x1="334.77" y1="705.50" x2="340.77" y2="705.50" stroke="#7ee82a" stroke-width="0.8" />
<polygon points="337.77,708.70 339.75,712.30 335.79,712.30" fill="#7ee82a" stroke="none" stroke-width="1" />
<polyline points="213.80,765.61 231.51,764.10 249.22,763.35 266.93,757.68 284.64,751.83 302.35,746.35 320.06,735.03 337.77,721.81" fill="none" stroke="#1010f0" stroke-width="1.4" />
<circle cx="213.80" cy="765.61" r="2.00" fill="#1010f0" stroke="none" stroke-width="1" />
<circle cx="231.51" cy="764.10" r="2.00" fill="#1010f0" stroke="none" stroke-width="1" />
<circle cx="249.22" cy="763.35" r="2.00" fill="#1010f0" stroke="none" stroke-width="1" />
<line x1="266.50" y1="758.63" x2="266.50" y2="756.74" stroke="#1010f0" stroke-width="0.8" />
<line x1="263.93" y1="758.50" x2="269.93" y2="758.50" stroke="#1010f0" stroke-width="0.8" />
<line x1="263.93" y1="756.50" x2="269.93" y2="756.50" stroke="#1010f0" stroke-width="0.8" />
<circle cx="266.93" cy="757.68" r="2.00" fill="#1010f0" stroke="none" stroke-width="1" />
<line x1="284.50" y1="753.15" x2="284.50" y2="750.51" stroke="#1010f0" stroke-width="0.8" />
<line x1="281.64" y1="753.50" x2="287.64" y2="753.50" stroke="#1010f0" stroke-width="0.8" />
<line x1="281.64" y1="750.50" x2="287.64" y2="750.50" stroke="#1010f0" stroke-width="0.8" />
<circle cx="284.64" cy="751.83" r="2.00" fill="#1010f0" stroke="none" stroke-width="1" />
<line x1="302.50" y1="747.86" x2="302.50" y2="744.84" stroke="#1010f0" stroke-width="0.8" />
<line x1="299.35" y1="747.50" x2="305.35" y2="747.50" stroke="#1010f0" stroke-width="0.8" />
<line x1="299.35" y1="744.50" x2="305.35" y2="744.50" stroke="#1010f0" stroke-width="0.8" />
<circle cx="302.35" cy="746.35" r="2.00" fill="#1010f0" stroke="none" stroke-width="1" />
<line x1="320.50" y1="741.26" x2="320.50" y2="728.80" stroke="#1010f0" stroke-width="0.8" />
<line x1="317.06" y1="741.50" x2="323.06" y2="741.50" stroke="#1010f0" stroke-width="0.8" />
<line x1="317.06" y1="728.50" x2="323.06" y2="728.50" stroke="#1010f0" stroke-width="0.8" />
<circle cx="320.06" cy="735.03" r="2.00" fill="#1010f0" stroke="none" stroke-width="1" />
<line x1="337.50" y1="727.10" x2="337.50" y2="716.52" stroke="#1010f0" stroke-width="0.8" />
<line x1="334.77" y1="727.50" x2="340.77" y2="727.50" stroke="#1010f0" stroke-width="0.8" />
<line x1="334.77" y1="716.50" x2="340.77" y2="716.50" stroke="#1010f0" stroke-width="0.8" />
<circle cx="337.77" cy="721.81" r="2.00" fill="#1010f0" stroke="none" stroke-width="1" />
<polyline points="213.80,765.23 231.51,763.72 249.22,761.84 266.93,755.23 284.64,748.24 302.35,739.18 320.06,713.50 337.77,692.36" fill="none" stroke="#f01c1c" stroke-width="1.4" />
<rect x="211.90" y="763.33" width="3.80" height="3.80" fill="#f01c1c" stroke="none" stroke-width="1" />
<rect x="229.61" y="761.82" width="3.80" height="3.80" fill="#f01c1c" stroke="none" stroke-width="1" />
<rect x="247.32" y="759.94" width="3.80" height="3.80" fill="#f01c1c" stroke="none" stroke-width="1" />
<line x1="266.50" y1="756.36" x2="266.50" y2="754.10" stroke="#f01c1c" stroke-width="0.8" />
<line x1="263.93" y1="756.50" x2="269.93" y2="756.50" stroke="#f01c1c" stroke-width="0.8" />
<line x1="263.93" y1="754.50" x2="269.93" y2="754.50" stroke="#f01c1c" stroke-width="0.8" />
<rect x="265.03" y="753.33" width="3.80" height="3.80" fill="#f01c1c" stroke="none" stroke-width="1" />
<line x1="284.50" y1="749.75" x2="284.50" y2="746.73" stroke="#f01c1c" stroke-width="0.8" />
<line x1="281.64" y1="749.50" x2="287.64" y2="749.50" stroke="#f01c1c" stroke-width="0.8" />
<line x1="281.64" y1="746.50" x2="287.64" y2="746.50" stroke="#f01c1c" stroke-width="0.8" />
<rect x="282.74" y="746.34" width="3.80" height="3.80" fill="#f01c1c" stroke="none" stroke-width="1" />
<line x1="302.50" y1="741.07" x2="302.50" y2="737.29" stroke="#f01c1c" stroke-width="0.8" />
<line x1="299.35" y1="741.50" x2="305.35" y2="741.50" stroke="#f01c1c" stroke-width="0.8" />
<line x1="299.35" y1="737.50" x2="305.35" y2="737.50" stroke="#f01c1c" stroke-width="0.8" />
<rect x="300.45" y="737.28" width="3.80" height="3.80" fill="#f01c1c" stroke="none" stroke-width="1" />
<line x1="320.50" y1="716.34" x2="320.50" y2="710.67" stroke="#f01c1c" stroke-width="0.8" />
<line x1="317.06" y1="716.50" x2="323.06" y2="716.50" stroke="#f01c1c" stroke-width="0.8" />
<line x1="317.06" y1="710.50" x2="323.06" y2="710.50" stroke="#f01c1c" stroke-width="0.8" />
<rect x="318.16" y="711.60" width="3.80" height="3.80" fill="#f01c1c" stroke="none" stroke-width="1" />
<line x1="337.50" y1="698.02" x2="337.50" y2="686.69" stroke="#f01c1c" stroke-width="0.8" />
<line x1="334.77" y1="698.50" x2="340.77" y2="698.50" stroke="#f01c1c" stroke-width="0.8" />
<line x1="334.77" y1="686.50" x2="340.77" y2="686.50" stroke="#f01c1c" stroke-width="0.8" />
<rect x="335.87" y="690.46" width="3.80" height="3.80" fill="#f01c1c" stroke="none" stroke-width="1" />
<line x1="214.70" y1="678.50" x2="225.20" y2="678.50" stroke="#1010f0" stroke-width="1.2" />
<circle cx="219.95" cy="678.10" r="2.10" fill="#1010f0" stroke="none" stroke-width="1" />
<text x="230.40" y="680.90" font-size="7.6" fill="#111" >si-<tspan font-style="italic">CTPS1</tspan>+pcDNA3.1</text>
<line x1="214.70" y1="691.50" x2="225.20" y2="691.50" stroke="#f01c1c" stroke-width="1.2" />
<rect x="218.00" y="689.25" width="3.90" height="3.90" fill="#f01c1c" stroke="none" stroke-width="1" />
<text x="230.40" y="694.00" font-size="7.6" fill="#111" >si-<tspan font-style="italic">CTPS1</tspan>+<tspan font-style="italic">CTPS1</tspan>_L</text>
<line x1="214.70" y1="704.50" x2="225.20" y2="704.50" stroke="#7ee82a" stroke-width="1.2" />
<polygon points="219.95,702.62 222.04,706.42 217.86,706.42" fill="#7ee82a" stroke="none" stroke-width="1" />
<text x="230.40" y="707.70" font-size="7.6" fill="#111" >si-<tspan font-style="italic">CTPS1</tspan>+<tspan font-style="italic">CTPS1</tspan>_S</text>
<polyline points="342.00,691.30 345.50,691.30 345.50,721.40 342.00,721.40" fill="none" stroke="#222" stroke-width="0.9" />
<line x1="342.00" y1="709.50" x2="345.50" y2="709.50" stroke="#222" stroke-width="0.9" />
<polyline points="350.10,691.30 357.60,691.30 357.60,721.40 350.10,721.40" fill="none" stroke="#222" stroke-width="0.9" />
<text x="351.80" y="704.43" font-size="6.5" fill="#111" font-weight="bold" text-anchor="middle" >**</text>
<text x="350.10" y="719.63" font-size="6.5" fill="#111" font-weight="bold" text-anchor="middle" >*</text>
<text x="363.40" y="710.63" font-size="6.5" fill="#111" font-weight="bold" text-anchor="middle" >**</text>
<text x="372.40" y="655.20" font-size="18" fill="#1c1616" font-weight="bold" >M</text>
<circle cx="418.30" cy="728.30" r="32.80" fill="url(#gplate)" stroke="none" stroke-width="1" />
<circle cx="418.30" cy="728.30" r="32.20" fill="none" stroke="#c3c6c5" stroke-width="1.2" />
<circle cx="418.30" cy="728.30" r="22.00" fill="#dee0df" stroke="none" stroke-width="1" opacity="0.3"/>
<circle cx="413.12" cy="738.65" r="0.45" fill="#5a3f9a" stroke="none" stroke-width="1" opacity="0.55"/>
<circle cx="413.62" cy="721.78" r="0.45" fill="#5a3f9a" stroke="none" stroke-width="1" opacity="0.55"/>
<circle cx="400.74" cy="724.27" r="0.45" fill="#5a3f9a" stroke="none" stroke-width="1" opacity="0.55"/>
<circle cx="438.13" cy="735.87" r="0.45" fill="#5a3f9a" stroke="none" stroke-width="1" opacity="0.55"/>
<circle cx="437.38" cy="732.88" r="0.45" fill="#5a3f9a" stroke="none" stroke-width="1" opacity="0.55"/>
<circle cx="426.42" cy="732.11" r="0.45" fill="#5a3f9a" stroke="none" stroke-width="1" opacity="0.55"/>
<circle cx="394.19" cy="740.67" r="0.45" fill="#5a3f9a" stroke="none" stroke-width="1" opacity="0.55"/>
<circle cx="428.33" cy="738.18" r="0.45" fill="#5a3f9a" stroke="none" stroke-width="1" opacity="0.55"/>
<circle cx="398.10" cy="707.48" r="0.45" fill="#5a3f9a" stroke="none" stroke-width="1" opacity="0.55"/>
<circle cx="401.69" cy="719.56" r="0.45" fill="#5a3f9a" stroke="none" stroke-width="1" opacity="0.55"/>
<circle cx="424.66" cy="727.34" r="0.45" fill="#5a3f9a" stroke="none" stroke-width="1" opacity="0.55"/>
<circle cx="428.40" cy="715.85" r="0.45" fill="#5a3f9a" stroke="none" stroke-width="1" opacity="0.55"/>
<circle cx="424.61" cy="736.35" r="0.45" fill="#5a3f9a" stroke="none" stroke-width="1" opacity="0.55"/>
<circle cx="408.63" cy="753.42" r="0.45" fill="#5a3f9a" stroke="none" stroke-width="1" opacity="0.55"/>
<circle cx="427.88" cy="748.91" r="0.45" fill="#5a3f9a" stroke="none" stroke-width="1" opacity="0.55"/>
<circle cx="406.61" cy="714.37" r="0.45" fill="#5a3f9a" stroke="none" stroke-width="1" opacity="0.55"/>
<circle cx="411.17" cy="726.09" r="0.45" fill="#5a3f9a" stroke="none" stroke-width="1" opacity="0.55"/>
<circle cx="430.89" cy="733.25" r="0.45" fill="#5a3f9a" stroke="none" stroke-width="1" opacity="0.55"/>
<circle cx="410.05" cy="710.65" r="0.45" fill="#5a3f9a" stroke="none" stroke-width="1" opacity="0.55"/>
<circle cx="409.36" cy="749.28" r="0.45" fill="#5a3f9a" stroke="none" stroke-width="1" opacity="0.55"/>
<circle cx="402.68" cy="733.03" r="0.45" fill="#5a3f9a" stroke="none" stroke-width="1" opacity="0.55"/>
<circle cx="425.16" cy="704.35" r="0.45" fill="#5a3f9a" stroke="none" stroke-width="1" opacity="0.55"/>
<circle cx="419.14" cy="750.87" r="0.45" fill="#5a3f9a" stroke="none" stroke-width="1" opacity="0.55"/>
<circle cx="390.77" cy="723.90" r="0.45" fill="#5a3f9a" stroke="none" stroke-width="1" opacity="0.55"/>
<circle cx="416.24" cy="712.44" r="0.45" fill="#5a3f9a" stroke="none" stroke-width="1" opacity="0.55"/>
<circle cx="434.60" cy="702.70" r="3.33" fill="#3a1f8c" stroke="none" stroke-width="1" opacity="0.95" filter="url(#cblur)"/>
<circle cx="418.30" cy="700.70" r="1.50" fill="#3a1f8c" stroke="none" stroke-width="1" opacity="0.95" filter="url(#cblur)"/>
<circle cx="421.60" cy="697.90" r="1.06" fill="#3a1f8c" stroke="none" stroke-width="1" opacity="0.75" filter="url(#cblur)"/>
<circle cx="423.20" cy="701.00" r="1.06" fill="#3a1f8c" stroke="none" stroke-width="1" opacity="0.75" filter="url(#cblur)"/>
<circle cx="397.60" cy="708.50" r="1.82" fill="#3a1f8c" stroke="none" stroke-width="1" opacity="0.95" filter="url(#cblur)"/>
<circle cx="402.20" cy="707.10" r="1.71" fill="#3a1f8c" stroke="none" stroke-width="1" opacity="0.95" filter="url(#cblur)"/>
<circle cx="406.30" cy="706.80" r="1.50" fill="#3a1f8c" stroke="none" stroke-width="1" opacity="0.95" filter="url(#cblur)"/>
<circle cx="387.30" cy="720.80" r="1.71" fill="#3a1f8c" stroke="none" stroke-width="1" opacity="0.95" filter="url(#cblur)"/>
<circle cx="401.90" cy="722.60" r="1.28" fill="#3a1f8c" stroke="none" stroke-width="1" opacity="0.95" filter="url(#cblur)"/>
<circle cx="426.40" cy="726.20" r="1.82" fill="#3a1f8c" stroke="none" stroke-width="1" opacity="0.95" filter="url(#cblur)"/>
<circle cx="430.00" cy="723.70" r="1.28" fill="#3a1f8c" stroke="none" stroke-width="1" opacity="0.95" filter="url(#cblur)"/>
<circle cx="431.50" cy="720.40" r="0.74" fill="#3a1f8c" stroke="none" stroke-width="1" opacity="0.75" filter="url(#cblur)"/>
<circle cx="439.70" cy="721.80" r="1.28" fill="#3a1f8c" stroke="none" stroke-width="1" opacity="0.95" filter="url(#cblur)"/>
<circle cx="417.70" cy="728.00" r="1.06" fill="#3a1f8c" stroke="none" stroke-width="1" opacity="0.75" filter="url(#cblur)"/>
<circle cx="416.70" cy="731.30" r="1.39" fill="#3a1f8c" stroke="none" stroke-width="1" opacity="0.95" filter="url(#cblur)"/>
<circle cx="420.30" cy="729.00" r="0.85" fill="#3a1f8c" stroke="none" stroke-width="1" opacity="0.75" filter="url(#cblur)"/>
<circle cx="393.00" cy="732.60" r="1.82" fill="#3a1f8c" stroke="none" stroke-width="1" opacity="0.95" filter="url(#cblur)"/>
<circle cx="445.60" cy="732.30" r="1.71" fill="#3a1f8c" stroke="none" stroke-width="1" opacity="0.95" filter="url(#cblur)"/>
<circle cx="400.20" cy="738.00" r="1.50" fill="#3a1f8c" stroke="none" stroke-width="1" opacity="0.95" filter="url(#cblur)"/>
<circle cx="398.30" cy="741.50" r="1.93" fill="#3a1f8c" stroke="none" stroke-width="1" opacity="0.95" filter="url(#cblur)"/>
<circle cx="401.90" cy="740.30" r="1.28" fill="#3a1f8c" stroke="none" stroke-width="1" opacity="0.95" filter="url(#cblur)"/>
<circle cx="421.80" cy="744.10" r="2.04" fill="#3a1f8c" stroke="none" stroke-width="1" opacity="0.95" filter="url(#cblur)"/>
<circle cx="414.70" cy="745.10" r="1.50" fill="#3a1f8c" stroke="none" stroke-width="1" opacity="0.95" filter="url(#cblur)"/>
<circle cx="441.20" cy="745.30" r="1.93" fill="#3a1f8c" stroke="none" stroke-width="1" opacity="0.95" filter="url(#cblur)"/>
<circle cx="437.20" cy="744.90" r="1.28" fill="#3a1f8c" stroke="none" stroke-width="1" opacity="0.95" filter="url(#cblur)"/>
<circle cx="433.80" cy="746.10" r="1.50" fill="#3a1f8c" stroke="none" stroke-width="1" opacity="0.95" filter="url(#cblur)"/>
<circle cx="437.00" cy="748.70" r="1.06" fill="#3a1f8c" stroke="none" stroke-width="1" opacity="0.75" filter="url(#cblur)"/>
<circle cx="442.30" cy="740.80" r="1.06" fill="#3a1f8c" stroke="none" stroke-width="1" opacity="0.75" filter="url(#cblur)"/>
<circle cx="441.50" cy="737.20" r="0.85" fill="#3a1f8c" stroke="none" stroke-width="1" opacity="0.75" filter="url(#cblur)"/>
<circle cx="390.20" cy="744.90" r="0.96" fill="#3a1f8c" stroke="none" stroke-width="1" opacity="0.75" filter="url(#cblur)"/>
<circle cx="448.40" cy="725.70" r="0.85" fill="#3a1f8c" stroke="none" stroke-width="1" opacity="0.75" filter="url(#cblur)"/>
<circle cx="439.70" cy="716.30" r="0.74" fill="#3a1f8c" stroke="none" stroke-width="1" opacity="0.75" filter="url(#cblur)"/>
<circle cx="445.50" cy="719.40" r="0.74" fill="#3a1f8c" stroke="none" stroke-width="1" opacity="0.75" filter="url(#cblur)"/>
<circle cx="488.80" cy="728.30" r="32.80" fill="url(#gplate)" stroke="none" stroke-width="1" />
<circle cx="488.80" cy="728.30" r="32.20" fill="none" stroke="#c3c6c5" stroke-width="1.2" />
<circle cx="488.80" cy="728.30" r="22.00" fill="#dee0df" stroke="none" stroke-width="1" opacity="0.3"/>
<circle cx="498.96" cy="727.03" r="0.45" fill="#5a3f9a" stroke="none" stroke-width="1" opacity="0.55"/>
<circle cx="466.23" cy="741.06" r="0.45" fill="#5a3f9a" stroke="none" stroke-width="1" opacity="0.55"/>
<circle cx="500.84" cy="745.31" r="0.45" fill="#5a3f9a" stroke="none" stroke-width="1" opacity="0.55"/>
<circle cx="512.42" cy="734.24" r="0.45" fill="#5a3f9a" stroke="none" stroke-width="1" opacity="0.55"/>
<circle cx="490.86" cy="705.84" r="0.45" fill="#5a3f9a" stroke="none" stroke-width="1" opacity="0.55"/>
<circle cx="500.64" cy="716.53" r="0.45" fill="#5a3f9a" stroke="none" stroke-width="1" opacity="0.55"/>
<circle cx="481.06" cy="706.67" r="0.45" fill="#5a3f9a" stroke="none" stroke-width="1" opacity="0.55"/>
<circle cx="471.16" cy="718.61" r="0.45" fill="#5a3f9a" stroke="none" stroke-width="1" opacity="0.55"/>
<circle cx="504.31" cy="703.84" r="0.45" fill="#5a3f9a" stroke="none" stroke-width="1" opacity="0.55"/>
<circle cx="464.84" cy="732.23" r="0.45" fill="#5a3f9a" stroke="none" stroke-width="1" opacity="0.55"/>
<circle cx="511.97" cy="737.59" r="0.45" fill="#5a3f9a" stroke="none" stroke-width="1" opacity="0.55"/>
<circle cx="470.91" cy="704.59" r="0.45" fill="#5a3f9a" stroke="none" stroke-width="1" opacity="0.55"/>
<circle cx="495.74" cy="714.00" r="0.45" fill="#5a3f9a" stroke="none" stroke-width="1" opacity="0.55"/>
<circle cx="470.44" cy="744.32" r="0.45" fill="#5a3f9a" stroke="none" stroke-width="1" opacity="0.55"/>
<circle cx="508.85" cy="731.16" r="0.45" fill="#5a3f9a" stroke="none" stroke-width="1" opacity="0.55"/>
<circle cx="493.82" cy="737.18" r="0.45" fill="#5a3f9a" stroke="none" stroke-width="1" opacity="0.55"/>
<circle cx="513.15" cy="737.76" r="0.45" fill="#5a3f9a" stroke="none" stroke-width="1" opacity="0.55"/>
<circle cx="499.00" cy="739.07" r="0.45" fill="#5a3f9a" stroke="none" stroke-width="1" opacity="0.55"/>
<circle cx="467.26" cy="745.90" r="0.45" fill="#5a3f9a" stroke="none" stroke-width="1" opacity="0.55"/>
<circle cx="506.27" cy="737.99" r="0.45" fill="#5a3f9a" stroke="none" stroke-width="1" opacity="0.55"/>
<circle cx="462.13" cy="719.74" r="0.45" fill="#5a3f9a" stroke="none" stroke-width="1" opacity="0.55"/>
<circle cx="500.48" cy="703.18" r="0.45" fill="#5a3f9a" stroke="none" stroke-width="1" opacity="0.55"/>
<circle cx="485.39" cy="747.20" r="0.45" fill="#5a3f9a" stroke="none" stroke-width="1" opacity="0.55"/>
<circle cx="471.11" cy="750.03" r="0.45" fill="#5a3f9a" stroke="none" stroke-width="1" opacity="0.55"/>
<circle cx="499.97" cy="725.26" r="0.45" fill="#5a3f9a" stroke="none" stroke-width="1" opacity="0.55"/>
<circle cx="495.22" cy="741.14" r="0.45" fill="#5a3f9a" stroke="none" stroke-width="1" opacity="0.55"/>
<circle cx="490.97" cy="748.94" r="0.45" fill="#5a3f9a" stroke="none" stroke-width="1" opacity="0.55"/>
<circle cx="475.86" cy="720.19" r="0.45" fill="#5a3f9a" stroke="none" stroke-width="1" opacity="0.55"/>
<circle cx="508.08" cy="728.80" r="0.45" fill="#5a3f9a" stroke="none" stroke-width="1" opacity="0.55"/>
<circle cx="473.53" cy="744.72" r="0.45" fill="#5a3f9a" stroke="none" stroke-width="1" opacity="0.55"/>
<circle cx="512.50" cy="721.11" r="0.45" fill="#5a3f9a" stroke="none" stroke-width="1" opacity="0.55"/>
<circle cx="465.49" cy="726.02" r="0.45" fill="#5a3f9a" stroke="none" stroke-width="1" opacity="0.55"/>
<circle cx="485.70" cy="722.11" r="0.45" fill="#5a3f9a" stroke="none" stroke-width="1" opacity="0.55"/>
<circle cx="510.05" cy="712.77" r="0.45" fill="#5a3f9a" stroke="none" stroke-width="1" opacity="0.55"/>
<circle cx="507.56" cy="709.42" r="0.45" fill="#5a3f9a" stroke="none" stroke-width="1" opacity="0.55"/>
<circle cx="474.12" cy="740.08" r="0.45" fill="#5a3f9a" stroke="none" stroke-width="1" opacity="0.55"/>
<circle cx="507.69" cy="742.67" r="0.45" fill="#5a3f9a" stroke="none" stroke-width="1" opacity="0.55"/>
<circle cx="495.95" cy="731.25" r="0.45" fill="#5a3f9a" stroke="none" stroke-width="1" opacity="0.55"/>
<circle cx="491.88" cy="739.90" r="0.45" fill="#5a3f9a" stroke="none" stroke-width="1" opacity="0.55"/>
<circle cx="485.14" cy="734.07" r="0.45" fill="#5a3f9a" stroke="none" stroke-width="1" opacity="0.55"/>
<circle cx="500.39" cy="728.32" r="0.45" fill="#5a3f9a" stroke="none" stroke-width="1" opacity="0.55"/>
<circle cx="503.24" cy="739.00" r="0.45" fill="#5a3f9a" stroke="none" stroke-width="1" opacity="0.55"/>
<circle cx="516.31" cy="732.75" r="0.45" fill="#5a3f9a" stroke="none" stroke-width="1" opacity="0.55"/>
<circle cx="480.14" cy="720.75" r="0.45" fill="#5a3f9a" stroke="none" stroke-width="1" opacity="0.55"/>
<circle cx="488.55" cy="745.86" r="0.45" fill="#5a3f9a" stroke="none" stroke-width="1" opacity="0.55"/>
<circle cx="481.93" cy="736.17" r="0.45" fill="#5a3f9a" stroke="none" stroke-width="1" opacity="0.55"/>
<circle cx="506.09" cy="704.16" r="0.45" fill="#5a3f9a" stroke="none" stroke-width="1" opacity="0.55"/>
<circle cx="468.54" cy="732.70" r="0.45" fill="#5a3f9a" stroke="none" stroke-width="1" opacity="0.55"/>
<circle cx="496.97" cy="733.19" r="0.45" fill="#5a3f9a" stroke="none" stroke-width="1" opacity="0.55"/>
<circle cx="480.37" cy="741.11" r="0.45" fill="#5a3f9a" stroke="none" stroke-width="1" opacity="0.55"/>
<circle cx="494.49" cy="717.77" r="0.45" fill="#5a3f9a" stroke="none" stroke-width="1" opacity="0.55"/>
<circle cx="517.56" cy="732.50" r="0.45" fill="#5a3f9a" stroke="none" stroke-width="1" opacity="0.55"/>
<circle cx="477.57" cy="726.28" r="0.45" fill="#5a3f9a" stroke="none" stroke-width="1" opacity="0.55"/>
<circle cx="484.08" cy="726.99" r="0.45" fill="#5a3f9a" stroke="none" stroke-width="1" opacity="0.55"/>
<circle cx="459.78" cy="723.12" r="0.45" fill="#5a3f9a" stroke="none" stroke-width="1" opacity="0.55"/>
<circle cx="505.05" cy="709.48" r="0.45" fill="#5a3f9a" stroke="none" stroke-width="1" opacity="0.55"/>
<circle cx="487.54" cy="746.30" r="0.45" fill="#5a3f9a" stroke="none" stroke-width="1" opacity="0.55"/>
<circle cx="501.84" cy="751.01" r="0.45" fill="#5a3f9a" stroke="none" stroke-width="1" opacity="0.55"/>
<circle cx="463.05" cy="722.95" r="0.45" fill="#5a3f9a" stroke="none" stroke-width="1" opacity="0.55"/>
<circle cx="482.05" cy="740.65" r="0.45" fill="#5a3f9a" stroke="none" stroke-width="1" opacity="0.55"/>
<circle cx="487.50" cy="697.30" r="1.71" fill="#3a1f8c" stroke="none" stroke-width="1" opacity="0.95" filter="url(#cblur)"/>
<circle cx="495.90" cy="697.60" r="0.85" fill="#3a1f8c" stroke="none" stroke-width="1" opacity="0.75" filter="url(#cblur)"/>
<circle cx="491.80" cy="704.80" r="2.04" fill="#3a1f8c" stroke="none" stroke-width="1" opacity="0.95" filter="url(#cblur)"/>
<circle cx="489.30" cy="709.60" r="1.93" fill="#3a1f8c" stroke="none" stroke-width="1" opacity="0.95" filter="url(#cblur)"/>
<circle cx="511.20" cy="709.90" r="1.50" fill="#3a1f8c" stroke="none" stroke-width="1" opacity="0.95" filter="url(#cblur)"/>
<circle cx="494.90" cy="712.90" r="1.28" fill="#3a1f8c" stroke="none" stroke-width="1" opacity="0.95" filter="url(#cblur)"/>
<circle cx="509.20" cy="715.00" r="1.17" fill="#3a1f8c" stroke="none" stroke-width="1" opacity="0.75" filter="url(#cblur)"/>
<circle cx="459.60" cy="719.80" r="2.36" fill="#3a1f8c" stroke="none" stroke-width="1" opacity="0.95" filter="url(#cblur)"/>
<circle cx="472.90" cy="720.60" r="1.17" fill="#3a1f8c" stroke="none" stroke-width="1" opacity="0.75" filter="url(#cblur)"/>
<circle cx="473.40" cy="714.50" r="0.96" fill="#3a1f8c" stroke="none" stroke-width="1" opacity="0.75" filter="url(#cblur)"/>
<circle cx="518.90" cy="721.60" r="2.36" fill="#3a1f8c" stroke="none" stroke-width="1" opacity="0.95" filter="url(#cblur)"/>
<circle cx="506.60" cy="720.10" r="1.50" fill="#3a1f8c" stroke="none" stroke-width="1" opacity="0.95" filter="url(#cblur)"/>
<circle cx="497.40" cy="720.60" r="1.50" fill="#3a1f8c" stroke="none" stroke-width="1" opacity="0.95" filter="url(#cblur)"/>
<circle cx="489.30" cy="725.20" r="2.58" fill="#3a1f8c" stroke="none" stroke-width="1" opacity="0.95" filter="url(#cblur)"/>
<circle cx="504.60" cy="724.90" r="2.14" fill="#3a1f8c" stroke="none" stroke-width="1" opacity="0.95" filter="url(#cblur)"/>
<circle cx="508.70" cy="724.70" r="1.93" fill="#3a1f8c" stroke="none" stroke-width="1" opacity="0.95" filter="url(#cblur)"/>
<circle cx="466.30" cy="723.70" r="1.50" fill="#3a1f8c" stroke="none" stroke-width="1" opacity="0.95" filter="url(#cblur)"/>
<circle cx="471.90" cy="729.30" r="3.12" fill="#3a1f8c" stroke="none" stroke-width="1" opacity="0.95" filter="url(#cblur)"/>
<circle cx="470.90" cy="733.40" r="1.82" fill="#3a1f8c" stroke="none" stroke-width="1" opacity="0.95" filter="url(#cblur)"/>
<circle cx="484.50" cy="732.00" r="2.90" fill="#3a1f8c" stroke="none" stroke-width="1" opacity="0.95" filter="url(#cblur)"/>
<circle cx="494.90" cy="731.80" r="2.14" fill="#3a1f8c" stroke="none" stroke-width="1" opacity="0.95" filter="url(#cblur)"/>
<circle cx="506.60" cy="731.60" r="1.28" fill="#3a1f8c" stroke="none" stroke-width="1" opacity="0.95" filter="url(#cblur)"/>
<circle cx="476.50" cy="733.90" r="1.28" fill="#3a1f8c" stroke="none" stroke-width="1" opacity="0.95" filter="url(#cblur)"/>
<circle cx="510.20" cy="735.90" r="1.50" fill="#3a1f8c" stroke="none" stroke-width="1" opacity="0.95" filter="url(#cblur)"/>
<circle cx="458.60" cy="735.90" r="1.28" fill="#3a1f8c" stroke="none" stroke-width="1" opacity="0.95" filter="url(#cblur)"/>
<circle cx="461.70" cy="739.50" r="1.60" fill="#3a1f8c" stroke="none" stroke-width="1" opacity="0.95" filter="url(#cblur)"/>
<circle cx="472.90" cy="739.50" r="1.28" fill="#3a1f8c" stroke="none" stroke-width="1" opacity="0.95" filter="url(#cblur)"/>
<circle cx="481.10" cy="740.50" r="1.28" fill="#3a1f8c" stroke="none" stroke-width="1" opacity="0.95" filter="url(#cblur)"/>
<circle cx="505.60" cy="740.20" r="2.04" fill="#3a1f8c" stroke="none" stroke-width="1" opacity="0.95" filter="url(#cblur)"/>
<circle cx="463.70" cy="743.90" r="2.58" fill="#3a1f8c" stroke="none" stroke-width="1" opacity="0.95" filter="url(#cblur)"/>
<circle cx="474.40" cy="743.60" r="1.60" fill="#3a1f8c" stroke="none" stroke-width="1" opacity="0.95" filter="url(#cblur)"/>
<circle cx="478.50" cy="745.30" r="2.90" fill="#3a1f8c" stroke="none" stroke-width="1" opacity="0.95" filter="url(#cblur)"/>
<circle cx="467.30" cy="745.30" r="1.28" fill="#3a1f8c" stroke="none" stroke-width="1" opacity="0.95" filter="url(#cblur)"/>
<circle cx="500.50" cy="744.10" r="2.36" fill="#3a1f8c" stroke="none" stroke-width="1" opacity="0.95" filter="url(#cblur)"/>
<circle cx="494.40" cy="746.60" r="1.50" fill="#3a1f8c" stroke="none" stroke-width="1" opacity="0.95" filter="url(#cblur)"/>
<circle cx="484.70" cy="752.80" r="3.12" fill="#3a1f8c" stroke="none" stroke-width="1" opacity="0.95" filter="url(#cblur)"/>
<circle cx="490.80" cy="753.80" r="1.28" fill="#3a1f8c" stroke="none" stroke-width="1" opacity="0.95" filter="url(#cblur)"/>
<circle cx="494.90" cy="755.50" r="1.50" fill="#3a1f8c" stroke="none" stroke-width="1" opacity="0.95" filter="url(#cblur)"/>
<circle cx="503.90" cy="754.10" r="1.82" fill="#3a1f8c" stroke="none" stroke-width="1" opacity="0.95" filter="url(#cblur)"/>
<circle cx="489.30" cy="716.00" r="1.06" fill="#3a1f8c" stroke="none" stroke-width="1" opacity="0.75" filter="url(#cblur)"/>
<circle cx="477.50" cy="715.50" r="0.85" fill="#3a1f8c" stroke="none" stroke-width="1" opacity="0.75" filter="url(#cblur)"/>
<circle cx="484.70" cy="722.60" r="0.85" fill="#3a1f8c" stroke="none" stroke-width="1" opacity="0.75" filter="url(#cblur)"/>
<circle cx="495.90" cy="728.30" r="0.96" fill="#3a1f8c" stroke="none" stroke-width="1" opacity="0.75" filter="url(#cblur)"/>
<circle cx="479.50" cy="706.30" r="0.74" fill="#3a1f8c" stroke="none" stroke-width="1" opacity="0.75" filter="url(#cblur)"/>
<circle cx="466.30" cy="709.40" r="0.74" fill="#3a1f8c" stroke="none" stroke-width="1" opacity="0.75" filter="url(#cblur)"/>
<circle cx="559.60" cy="728.30" r="32.80" fill="url(#gplate)" stroke="none" stroke-width="1" />
<circle cx="559.60" cy="728.30" r="32.20" fill="none" stroke="#c3c6c5" stroke-width="1.2" />
<circle cx="559.60" cy="728.30" r="22.00" fill="#dee0df" stroke="none" stroke-width="1" opacity="0.3"/>
<circle cx="570.75" cy="700.91" r="0.45" fill="#5a3f9a" stroke="none" stroke-width="1" opacity="0.55"/>
<circle cx="575.68" cy="706.92" r="0.45" fill="#5a3f9a" stroke="none" stroke-width="1" opacity="0.55"/>
<circle cx="570.27" cy="704.99" r="0.45" fill="#5a3f9a" stroke="none" stroke-width="1" opacity="0.55"/>
<circle cx="562.72" cy="749.51" r="0.45" fill="#5a3f9a" stroke="none" stroke-width="1" opacity="0.55"/>
<circle cx="556.48" cy="732.30" r="0.45" fill="#5a3f9a" stroke="none" stroke-width="1" opacity="0.55"/>
<circle cx="575.11" cy="731.05" r="0.45" fill="#5a3f9a" stroke="none" stroke-width="1" opacity="0.55"/>
<circle cx="558.17" cy="753.06" r="0.45" fill="#5a3f9a" stroke="none" stroke-width="1" opacity="0.55"/>
<circle cx="578.79" cy="722.92" r="0.45" fill="#5a3f9a" stroke="none" stroke-width="1" opacity="0.55"/>
<circle cx="586.93" cy="716.88" r="0.45" fill="#5a3f9a" stroke="none" stroke-width="1" opacity="0.55"/>
<circle cx="576.88" cy="723.28" r="0.45" fill="#5a3f9a" stroke="none" stroke-width="1" opacity="0.55"/>
<circle cx="562.22" cy="742.25" r="0.45" fill="#5a3f9a" stroke="none" stroke-width="1" opacity="0.55"/>
<circle cx="564.03" cy="741.02" r="0.45" fill="#5a3f9a" stroke="none" stroke-width="1" opacity="0.55"/>
<circle cx="539.49" cy="708.42" r="0.45" fill="#5a3f9a" stroke="none" stroke-width="1" opacity="0.55"/>
<circle cx="570.70" cy="710.91" r="0.45" fill="#5a3f9a" stroke="none" stroke-width="1" opacity="0.55"/>
<circle cx="544.34" cy="706.45" r="0.45" fill="#5a3f9a" stroke="none" stroke-width="1" opacity="0.55"/>
<circle cx="580.46" cy="740.60" r="0.45" fill="#5a3f9a" stroke="none" stroke-width="1" opacity="0.55"/>
<circle cx="581.83" cy="714.15" r="0.45" fill="#5a3f9a" stroke="none" stroke-width="1" opacity="0.55"/>
<circle cx="559.62" cy="707.70" r="0.45" fill="#5a3f9a" stroke="none" stroke-width="1" opacity="0.55"/>
<circle cx="571.09" cy="752.15" r="0.45" fill="#5a3f9a" stroke="none" stroke-width="1" opacity="0.55"/>
<circle cx="546.38" cy="751.46" r="0.45" fill="#5a3f9a" stroke="none" stroke-width="1" opacity="0.55"/>
<circle cx="578.05" cy="724.98" r="0.45" fill="#5a3f9a" stroke="none" stroke-width="1" opacity="0.55"/>
<circle cx="535.99" cy="745.14" r="0.45" fill="#5a3f9a" stroke="none" stroke-width="1" opacity="0.55"/>
<circle cx="557.66" cy="716.17" r="0.45" fill="#5a3f9a" stroke="none" stroke-width="1" opacity="0.55"/>
<circle cx="567.69" cy="736.60" r="0.45" fill="#5a3f9a" stroke="none" stroke-width="1" opacity="0.55"/>
<circle cx="581.72" cy="713.24" r="0.45" fill="#5a3f9a" stroke="none" stroke-width="1" opacity="0.55"/>
<circle cx="576.05" cy="749.83" r="0.45" fill="#5a3f9a" stroke="none" stroke-width="1" opacity="0.55"/>
<circle cx="583.57" cy="725.32" r="0.45" fill="#5a3f9a" stroke="none" stroke-width="1" opacity="0.55"/>
<circle cx="546.58" cy="746.12" r="0.45" fill="#5a3f9a" stroke="none" stroke-width="1" opacity="0.55"/>
<circle cx="562.02" cy="730.91" r="0.45" fill="#5a3f9a" stroke="none" stroke-width="1" opacity="0.55"/>
<circle cx="583.22" cy="723.93" r="0.45" fill="#5a3f9a" stroke="none" stroke-width="1" opacity="0.55"/>
<circle cx="558.70" cy="697.10" r="1.50" fill="#3a1f8c" stroke="none" stroke-width="1" opacity="0.95" filter="url(#cblur)"/>
<circle cx="564.30" cy="697.10" r="1.28" fill="#3a1f8c" stroke="none" stroke-width="1" opacity="0.95" filter="url(#cblur)"/>
<circle cx="567.90" cy="698.10" r="1.50" fill="#3a1f8c" stroke="none" stroke-width="1" opacity="0.95" filter="url(#cblur)"/>
<circle cx="547.50" cy="699.30" r="1.50" fill="#3a1f8c" stroke="none" stroke-width="1" opacity="0.95" filter="url(#cblur)"/>
<circle cx="538.10" cy="705.80" r="1.60" fill="#3a1f8c" stroke="none" stroke-width="1" opacity="0.95" filter="url(#cblur)"/>
<circle cx="571.50" cy="708.80" r="2.36" fill="#3a1f8c" stroke="none" stroke-width="1" opacity="0.95" filter="url(#cblur)"/>
<circle cx="567.40" cy="710.90" r="1.50" fill="#3a1f8c" stroke="none" stroke-width="1" opacity="0.95" filter="url(#cblur)"/>
<circle cx="585.30" cy="711.90" r="1.60" fill="#3a1f8c" stroke="none" stroke-width="1" opacity="0.95" filter="url(#cblur)"/>
<circle cx="561.80" cy="716.00" r="2.36" fill="#3a1f8c" stroke="none" stroke-width="1" opacity="0.95" filter="url(#cblur)"/>
<circle cx="530.60" cy="720.80" r="2.36" fill="#3a1f8c" stroke="none" stroke-width="1" opacity="0.95" filter="url(#cblur)"/>
<circle cx="553.80" cy="721.10" r="1.28" fill="#3a1f8c" stroke="none" stroke-width="1" opacity="0.95" filter="url(#cblur)"/>
<circle cx="587.30" cy="721.60" r="2.14" fill="#3a1f8c" stroke="none" stroke-width="1" opacity="0.95" filter="url(#cblur)"/>
<circle cx="577.10" cy="726.90" r="2.14" fill="#3a1f8c" stroke="none" stroke-width="1" opacity="0.95" filter="url(#cblur)"/>
<circle cx="579.20" cy="731.00" r="1.50" fill="#3a1f8c" stroke="none" stroke-width="1" opacity="0.95" filter="url(#cblur)"/>
<circle cx="588.40" cy="733.70" r="2.58" fill="#3a1f8c" stroke="none" stroke-width="1" opacity="0.95" filter="url(#cblur)"/>
<circle cx="584.50" cy="740.00" r="1.93" fill="#3a1f8c" stroke="none" stroke-width="1" opacity="0.95" filter="url(#cblur)"/>
<circle cx="576.60" cy="744.30" r="2.04" fill="#3a1f8c" stroke="none" stroke-width="1" opacity="0.95" filter="url(#cblur)"/>
<circle cx="582.70" cy="744.60" r="2.36" fill="#3a1f8c" stroke="none" stroke-width="1" opacity="0.95" filter="url(#cblur)"/>
<circle cx="586.30" cy="743.10" r="1.82" fill="#3a1f8c" stroke="none" stroke-width="1" opacity="0.95" filter="url(#cblur)"/>
<circle cx="588.60" cy="741.80" r="1.28" fill="#3a1f8c" stroke="none" stroke-width="1" opacity="0.95" filter="url(#cblur)"/>
<circle cx="532.40" cy="743.60" r="2.14" fill="#3a1f8c" stroke="none" stroke-width="1" opacity="0.95" filter="url(#cblur)"/>
<circle cx="537.80" cy="739.00" r="1.17" fill="#3a1f8c" stroke="none" stroke-width="1" opacity="0.75" filter="url(#cblur)"/>
<circle cx="546.30" cy="740.80" r="1.06" fill="#3a1f8c" stroke="none" stroke-width="1" opacity="0.75" filter="url(#cblur)"/>
<circle cx="555.70" cy="730.30" r="0.96" fill="#3a1f8c" stroke="none" stroke-width="1" opacity="0.75" filter="url(#cblur)"/>
<circle cx="562.00" cy="748.50" r="1.28" fill="#3a1f8c" stroke="none" stroke-width="1" opacity="0.95" filter="url(#cblur)"/>
<circle cx="541.30" cy="754.80" r="1.60" fill="#3a1f8c" stroke="none" stroke-width="1" opacity="0.95" filter="url(#cblur)"/>
<circle cx="576.60" cy="753.50" r="1.60" fill="#3a1f8c" stroke="none" stroke-width="1" opacity="0.95" filter="url(#cblur)"/>
<circle cx="550.50" cy="753.30" r="1.28" fill="#3a1f8c" stroke="none" stroke-width="1" opacity="0.95" filter="url(#cblur)"/>
<circle cx="537.80" cy="752.10" r="0.96" fill="#3a1f8c" stroke="none" stroke-width="1" opacity="0.75" filter="url(#cblur)"/>
<circle cx="575.10" cy="734.70" r="0.96" fill="#3a1f8c" stroke="none" stroke-width="1" opacity="0.75" filter="url(#cblur)"/>
<circle cx="527.60" cy="731.30" r="0.85" fill="#3a1f8c" stroke="none" stroke-width="1" opacity="0.75" filter="url(#cblur)"/>
<circle cx="578.10" cy="740.50" r="0.85" fill="#3a1f8c" stroke="none" stroke-width="1" opacity="0.75" filter="url(#cblur)"/>
<circle cx="544.40" cy="748.70" r="0.85" fill="#3a1f8c" stroke="none" stroke-width="1" opacity="0.75" filter="url(#cblur)"/>
<circle cx="569.50" cy="757.40" r="0.74" fill="#3a1f8c" stroke="none" stroke-width="1" opacity="0.75" filter="url(#cblur)"/>
<text x="418.30" y="673.10" font-size="8.0" fill="#111" font-weight="bold" text-anchor="middle" textLength="40.00" lengthAdjust="spacingAndGlyphs" >si-<tspan font-style="italic">CTPS1</tspan>+</text>
<text x="418.30" y="685.70" font-size="8.0" fill="#111" font-weight="bold" text-anchor="middle" textLength="37.40" lengthAdjust="spacingAndGlyphs" >pcDNA3.1</text>
<text x="489.00" y="673.10" font-size="8.0" fill="#111" font-weight="bold" text-anchor="middle" textLength="40.30" lengthAdjust="spacingAndGlyphs" >si-<tspan font-style="italic">CTPS1</tspan>+</text>
<text x="489.00" y="685.70" font-size="8.0" fill="#111" font-weight="bold" text-anchor="middle" textLength="34.40" lengthAdjust="spacingAndGlyphs" ><tspan font-style="italic">CTPS1</tspan>_L</text>
<text x="559.40" y="673.10" font-size="8.0" fill="#111" font-weight="bold" text-anchor="middle" textLength="39.70" lengthAdjust="spacingAndGlyphs" >si-<tspan font-style="italic">CTPS1</tspan>+</text>
<text x="559.40" y="685.70" font-size="8.0" fill="#111" font-weight="bold" text-anchor="middle" textLength="35.60" lengthAdjust="spacingAndGlyphs" ><tspan font-style="italic">CTPS1</tspan>_S</text>
<line x1="623.50" y1="670.80" x2="623.50" y2="741.80" stroke="#1a1a1a" stroke-width="1.0" />
<line x1="621.40" y1="741.50" x2="623.60" y2="741.50" stroke="#1a1a1a" stroke-width="1.0" />
<text x="620.40" y="743.82" font-size="5.6" fill="#111" font-weight="bold" text-anchor="end" >0</text>
<line x1="621.40" y1="727.50" x2="623.60" y2="727.50" stroke="#1a1a1a" stroke-width="1.0" />
<text x="620.40" y="729.74" font-size="5.6" fill="#111" font-weight="bold" text-anchor="end" >10</text>
<line x1="621.40" y1="713.50" x2="623.60" y2="713.50" stroke="#1a1a1a" stroke-width="1.0" />
<text x="620.40" y="715.66" font-size="5.6" fill="#111" font-weight="bold" text-anchor="end" >20</text>
<line x1="621.40" y1="699.50" x2="623.60" y2="699.50" stroke="#1a1a1a" stroke-width="1.0" />
<text x="620.40" y="701.58" font-size="5.6" fill="#111" font-weight="bold" text-anchor="end" >30</text>
<line x1="621.40" y1="685.50" x2="623.60" y2="685.50" stroke="#1a1a1a" stroke-width="1.0" />
<text x="620.40" y="687.50" font-size="5.6" fill="#111" font-weight="bold" text-anchor="end" >40</text>
<line x1="621.40" y1="671.50" x2="623.60" y2="671.50" stroke="#1a1a1a" stroke-width="1.0" />
<text x="620.40" y="673.42" font-size="5.6" fill="#111" font-weight="bold" text-anchor="end" >50</text>
<line x1="623.40" y1="741.50" x2="670.20" y2="741.50" stroke="#1a1a1a" stroke-width="1.0" />
<line x1="633.50" y1="707.30" x2="633.50" y2="717.16" stroke="#1a1aff" stroke-width="1.3" />
<line x1="630.25" y1="707.50" x2="635.75" y2="707.50" stroke="#1a1aff" stroke-width="1.3" />
<rect x="628.85" y="717.81" width="8.30" height="23.99" fill="url(#pmblue)" stroke="#1a1aff" stroke-width="1.3" />
<line x1="646.50" y1="685.48" x2="646.50" y2="688.30" stroke="#ff2222" stroke-width="1.3" />
<line x1="644.15" y1="685.50" x2="649.65" y2="685.50" stroke="#ff2222" stroke-width="1.3" />
<rect x="642.75" y="688.95" width="8.30" height="52.85" fill="url(#pmred)" stroke="#ff2222" stroke-width="1.3" />
<line x1="661.50" y1="700.97" x2="661.50" y2="703.78" stroke="#22ee22" stroke-width="1.3" />
<line x1="658.35" y1="700.50" x2="663.85" y2="700.50" stroke="#22ee22" stroke-width="1.3" />
<rect x="656.95" y="704.43" width="8.30" height="37.37" fill="url(#pmgreen)" stroke="#22ee22" stroke-width="1.3" />
<line x1="632.50" y1="741.90" x2="632.50" y2="744.20" stroke="#1a1a1a" stroke-width="1" />
<line x1="647.50" y1="741.90" x2="647.50" y2="744.20" stroke="#1a1a1a" stroke-width="1" />
<line x1="661.50" y1="741.90" x2="661.50" y2="744.20" stroke="#1a1a1a" stroke-width="1" />
<line x1="621.40" y1="741.50" x2="670.20" y2="741.50" stroke="#333" stroke-width="1.2" />
<polyline points="632.50,672.40 632.50,664.50 661.50,664.50 661.50,672.40" fill="none" stroke="#555" stroke-width="0.8" />
<polyline points="632.50,702.30 632.50,677.50 645.50,677.50 645.50,681.10" fill="none" stroke="#555" stroke-width="0.8" />
<polyline points="648.50,681.10 648.50,677.50 661.50,677.50 661.50,695.90" fill="none" stroke="#555" stroke-width="0.8" />
<text x="646.90" y="662.30" font-size="5.8" fill="#222" text-anchor="middle" >ns</text>
<text x="639.40" y="677.46" font-size="7.2" fill="#111" font-weight="bold" text-anchor="middle" >**</text>
<text x="654.90" y="677.46" font-size="7.2" fill="#111" font-weight="bold" text-anchor="middle" >*</text>
<text x="0" y="0" font-size="6.6" font-weight="bold" text-anchor="middle" fill="#111" transform="translate(611.00,706.60) rotate(-90)" textLength="60.00" lengthAdjust="spacingAndGlyphs">Number of cell clones</text>
<text x="0" y="0" font-size="5.7" font-weight="bold" text-anchor="end" fill="#111" transform="translate(634.30,748.60) rotate(-45)">si-<tspan font-style="italic">CTPS1</tspan>+pcDNA3.1</text>
<text x="0" y="0" font-size="5.7" font-weight="bold" text-anchor="end" fill="#111" transform="translate(648.60,748.60) rotate(-45)">si-<tspan font-style="italic">CTPS1</tspan>+<tspan font-style="italic">CTPS1</tspan>_L</text>
<text x="0" y="0" font-size="5.7" font-weight="bold" text-anchor="end" fill="#111" transform="translate(662.60,748.60) rotate(-45)">si-<tspan font-style="italic">CTPS1</tspan>+<tspan font-style="italic">CTPS1</tspan>_S</text>
<circle cx="631.00" cy="718.50" r="0.80" fill="#333" stroke="none" stroke-width="1" />
<circle cx="633.50" cy="713.00" r="0.80" fill="#333" stroke="none" stroke-width="1" />
<circle cx="635.50" cy="716.50" r="0.80" fill="#333" stroke="none" stroke-width="1" />
<circle cx="645.00" cy="688.80" r="0.80" fill="#333" stroke="none" stroke-width="1" />
<circle cx="647.00" cy="686.80" r="0.80" fill="#333" stroke="none" stroke-width="1" />
<circle cx="649.00" cy="689.50" r="0.80" fill="#333" stroke="none" stroke-width="1" />
<circle cx="659.00" cy="702.00" r="0.80" fill="#333" stroke="none" stroke-width="1" />
<circle cx="661.00" cy="704.80" r="0.80" fill="#333" stroke="none" stroke-width="1" />
<circle cx="663.00" cy="702.50" r="0.80" fill="#333" stroke="none" stroke-width="1" />
</svg>
</body></html>
